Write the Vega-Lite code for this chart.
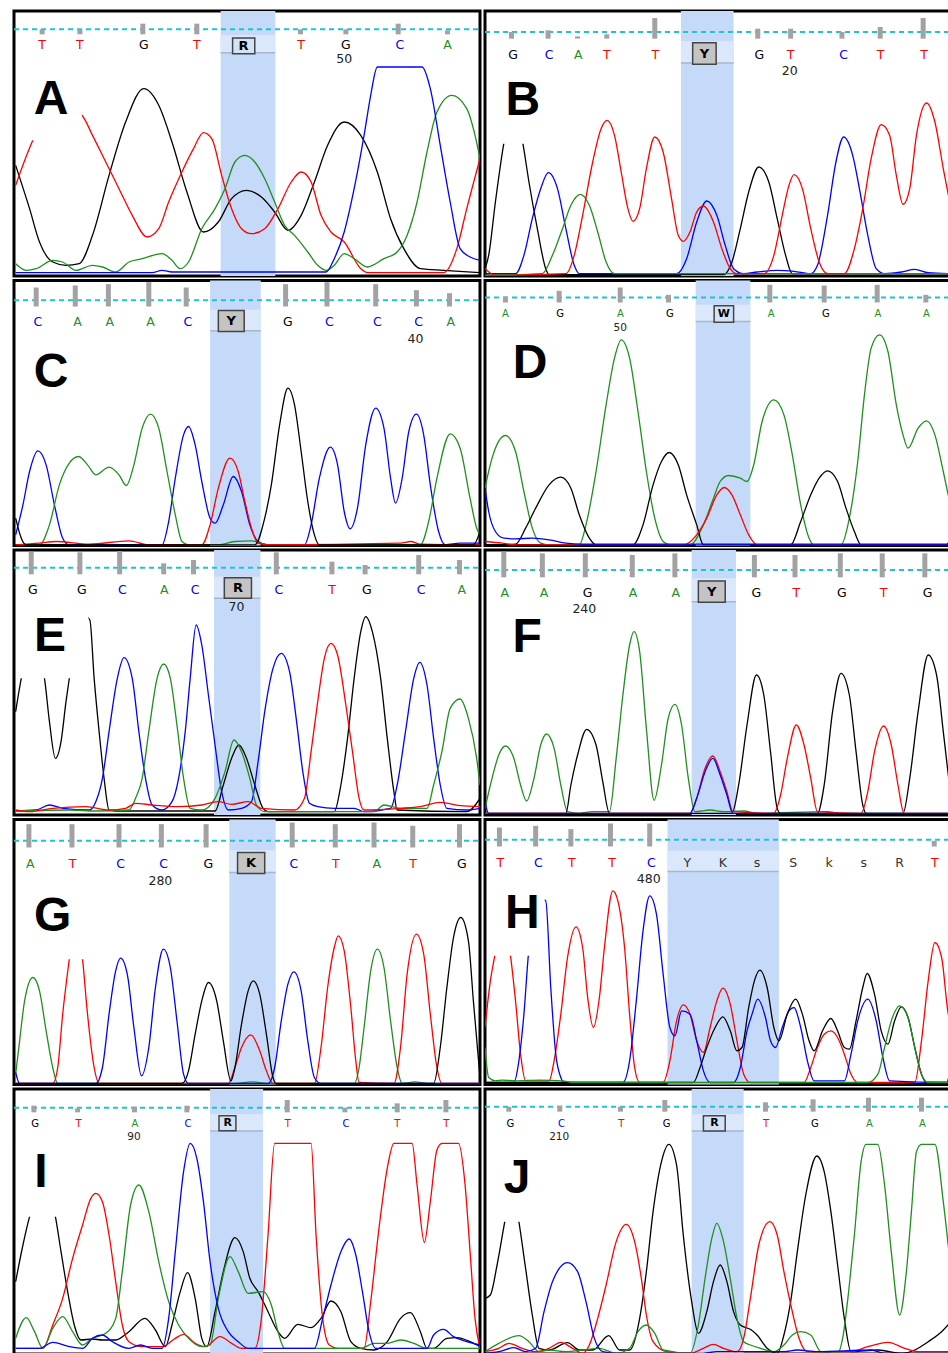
{
"$schema":"https://vega.github.io/schema/vega-lite/v6.json",
"padding":{"left":11,"top":9,"right":0,"bottom":0},
"background":"white",
"config":{"view":{"stroke":"#000000","strokeWidth":3},"font":"DejaVu Sans"},
"data":{"values":[
{"p":"A","k":"hl","x":657,"x2":822,"y":0,"y2":795},
{"p":"A","k":"band","x":657,"x2":822,"y":722,"y2":670},
{"p":"A","k":"dash","x":33,"x2":1440,"y":740},
{"p":"A","k":"tick","x":118,"y":740,"y2":725},{"p":"A","k":"tick","x":232,"y":740,"y2":725},{"p":"A","k":"tick","x":422,"y":757,"y2":725},{"p":"A","k":"tick","x":585,"y":757,"y2":725},{"p":"A","k":"tick","x":898,"y":740,"y2":725},{"p":"A","k":"tick","x":1035,"y":740,"y2":725},{"p":"A","k":"tick","x":1193,"y":757,"y2":725},{"p":"A","k":"tick","x":1342,"y":737,"y2":725},
{"p":"A","k":"l","b":"T","x":118,"y":692},{"p":"A","k":"l","b":"T","x":232,"y":692},{"p":"A","k":"l","b":"G","x":425,"y":692},{"p":"A","k":"l","b":"T","x":585,"y":692},{"p":"A","k":"l","b":"T","x":900,"y":692},{"p":"A","k":"l","b":"G","x":1035,"y":692},{"p":"A","k":"l","b":"C","x":1198,"y":692},{"p":"A","k":"l","b":"A","x":1342,"y":692},
{"p":"A","k":"box","x":693,"x2":760,"y":714,"y2":667},
{"p":"A","k":"a","t":"R","x":726,"y":690},
{"p":"A","k":"n","t":"50","x":1030,"y":652},
{"p":"A","k":"pl","t":"A","x":145,"y":487},
{"p":"A","k":"mask","x":39,"x2":238,"y":407,"y2":640},
{"p":"A","k":"t","b":"G","x":38,"y":332},{"p":"A","k":"t","b":"G","x":80,"y":202},{"p":"A","k":"t","b":"G","x":110,"y":102},{"p":"A","k":"t","b":"G","x":150,"y":42},{"p":"A","k":"t","b":"G","x":190,"y":32},{"p":"A","k":"t","b":"G","x":230,"y":37},{"p":"A","k":"t","b":"G","x":270,"y":122},{"p":"A","k":"t","b":"G","x":320,"y":302},{"p":"A","k":"t","b":"G","x":370,"y":462},{"p":"A","k":"t","b":"G","x":425,"y":562},{"p":"A","k":"t","b":"G","x":470,"y":512},{"p":"A","k":"t","b":"G","x":510,"y":402},{"p":"A","k":"t","b":"G","x":555,"y":252},{"p":"A","k":"t","b":"G","x":605,"y":132},{"p":"A","k":"t","b":"G","x":650,"y":162},{"p":"A","k":"t","b":"G","x":690,"y":232},{"p":"A","k":"t","b":"G","x":735,"y":257},{"p":"A","k":"t","b":"G","x":780,"y":237},{"p":"A","k":"t","b":"G","x":820,"y":192},{"p":"A","k":"t","b":"G","x":860,"y":137},{"p":"A","k":"t","b":"G","x":900,"y":182},{"p":"A","k":"t","b":"G","x":940,"y":282},{"p":"A","k":"t","b":"G","x":980,"y":392},{"p":"A","k":"t","b":"G","x":1030,"y":462},{"p":"A","k":"t","b":"G","x":1080,"y":422},{"p":"A","k":"t","b":"G","x":1130,"y":312},{"p":"A","k":"t","b":"G","x":1170,"y":172},{"p":"A","k":"t","b":"G","x":1210,"y":82},{"p":"A","k":"t","b":"G","x":1260,"y":22},{"p":"A","k":"t","b":"G","x":1330,"y":17},{"p":"A","k":"t","b":"G","x":1440,"y":10},
{"p":"A","k":"t","b":"T","x":38,"y":272},{"p":"A","k":"t","b":"T","x":90,"y":407},{"p":"A","k":"t","b":"T","x":160,"y":520},{"p":"A","k":"t","b":"T","x":238,"y":482},{"p":"A","k":"t","b":"T","x":270,"y":422},{"p":"A","k":"t","b":"T","x":310,"y":342},{"p":"A","k":"t","b":"T","x":350,"y":262},{"p":"A","k":"t","b":"T","x":390,"y":182},{"p":"A","k":"t","b":"T","x":435,"y":117},{"p":"A","k":"t","b":"T","x":470,"y":142},{"p":"A","k":"t","b":"T","x":500,"y":222},{"p":"A","k":"t","b":"T","x":540,"y":312},{"p":"A","k":"t","b":"T","x":575,"y":382},{"p":"A","k":"t","b":"T","x":605,"y":430},{"p":"A","k":"t","b":"T","x":630,"y":412},{"p":"A","k":"t","b":"T","x":660,"y":302},{"p":"A","k":"t","b":"T","x":690,"y":202},{"p":"A","k":"t","b":"T","x":720,"y":142},{"p":"A","k":"t","b":"T","x":750,"y":127},{"p":"A","k":"t","b":"T","x":790,"y":142},{"p":"A","k":"t","b":"T","x":830,"y":202},{"p":"A","k":"t","b":"T","x":870,"y":282},{"p":"A","k":"t","b":"T","x":900,"y":312},{"p":"A","k":"t","b":"T","x":930,"y":282},{"p":"A","k":"t","b":"T","x":960,"y":182},{"p":"A","k":"t","b":"T","x":990,"y":132},{"p":"A","k":"t","b":"T","x":1030,"y":102},{"p":"A","k":"t","b":"T","x":1080,"y":22},{"p":"A","k":"t","b":"T","x":1100,"y":10},{"p":"A","k":"t","b":"T","x":1330,"y":10},{"p":"A","k":"t","b":"T","x":1370,"y":82},{"p":"A","k":"t","b":"T","x":1400,"y":202},{"p":"A","k":"t","b":"T","x":1440,"y":352},
{"p":"A","k":"t","b":"A","x":38,"y":37},{"p":"A","k":"t","b":"A","x":70,"y":17},{"p":"A","k":"t","b":"A","x":100,"y":22},{"p":"A","k":"t","b":"A","x":150,"y":47},{"p":"A","k":"t","b":"A","x":180,"y":42},{"p":"A","k":"t","b":"A","x":220,"y":17},{"p":"A","k":"t","b":"A","x":270,"y":32},{"p":"A","k":"t","b":"A","x":300,"y":27},{"p":"A","k":"t","b":"A","x":340,"y":12},{"p":"A","k":"t","b":"A","x":380,"y":42},{"p":"A","k":"t","b":"A","x":420,"y":52},{"p":"A","k":"t","b":"A","x":480,"y":67},{"p":"A","k":"t","b":"A","x":510,"y":47},{"p":"A","k":"t","b":"A","x":535,"y":22},{"p":"A","k":"t","b":"A","x":560,"y":42},{"p":"A","k":"t","b":"A","x":600,"y":142},{"p":"A","k":"t","b":"A","x":640,"y":202},{"p":"A","k":"t","b":"A","x":670,"y":262},{"p":"A","k":"t","b":"A","x":700,"y":342},{"p":"A","k":"t","b":"A","x":730,"y":362},{"p":"A","k":"t","b":"A","x":760,"y":342},{"p":"A","k":"t","b":"A","x":790,"y":292},{"p":"A","k":"t","b":"A","x":820,"y":222},{"p":"A","k":"t","b":"A","x":850,"y":152},{"p":"A","k":"t","b":"A","x":880,"y":122},{"p":"A","k":"t","b":"A","x":920,"y":72},{"p":"A","k":"t","b":"A","x":950,"y":32},{"p":"A","k":"t","b":"A","x":975,"y":17},{"p":"A","k":"t","b":"A","x":1000,"y":32},{"p":"A","k":"t","b":"A","x":1030,"y":67},{"p":"A","k":"t","b":"A","x":1060,"y":52},{"p":"A","k":"t","b":"A","x":1100,"y":27},{"p":"A","k":"t","b":"A","x":1150,"y":52},{"p":"A","k":"t","b":"A","x":1190,"y":72},{"p":"A","k":"t","b":"A","x":1220,"y":122},{"p":"A","k":"t","b":"A","x":1250,"y":222},{"p":"A","k":"t","b":"A","x":1280,"y":372},{"p":"A","k":"t","b":"A","x":1310,"y":492},{"p":"A","k":"t","b":"A","x":1355,"y":542},{"p":"A","k":"t","b":"A","x":1400,"y":502},{"p":"A","k":"t","b":"A","x":1425,"y":422},{"p":"A","k":"t","b":"A","x":1440,"y":352},
{"p":"A","k":"t","b":"C","x":38,"y":10},{"p":"A","k":"t","b":"C","x":450,"y":10},{"p":"A","k":"t","b":"C","x":480,"y":17},{"p":"A","k":"t","b":"C","x":510,"y":12},{"p":"A","k":"t","b":"C","x":975,"y":12},{"p":"A","k":"t","b":"C","x":1000,"y":52},{"p":"A","k":"t","b":"C","x":1030,"y":132},{"p":"A","k":"t","b":"C","x":1060,"y":262},{"p":"A","k":"t","b":"C","x":1090,"y":422},{"p":"A","k":"t","b":"C","x":1110,"y":542},{"p":"A","k":"t","b":"C","x":1130,"y":627},{"p":"A","k":"t","b":"C","x":1265,"y":627},{"p":"A","k":"t","b":"C","x":1290,"y":562},{"p":"A","k":"t","b":"C","x":1320,"y":392},{"p":"A","k":"t","b":"C","x":1350,"y":222},{"p":"A","k":"t","b":"C","x":1380,"y":82},{"p":"A","k":"t","b":"C","x":1410,"y":57},{"p":"A","k":"t","b":"C","x":1440,"y":47},

{"p":"C","k":"hl","x":625,"x2":778,"y":0,"y2":795},
{"p":"C","k":"band","x":625,"x2":778,"y":707,"y2":644},
{"p":"C","k":"dash","x":33,"x2":1440,"y":736},
{"p":"C","k":"tick","x":100,"y":774,"y2":717},{"p":"C","k":"tick","x":218,"y":780,"y2":717},{"p":"C","k":"tick","x":318,"y":784,"y2":717},{"p":"C","k":"tick","x":440,"y":790,"y2":717},{"p":"C","k":"tick","x":553,"y":774,"y2":717},{"p":"C","k":"tick","x":853,"y":784,"y2":717},{"p":"C","k":"tick","x":978,"y":790,"y2":717},{"p":"C","k":"tick","x":1125,"y":784,"y2":717},{"p":"C","k":"tick","x":1248,"y":766,"y2":717},{"p":"C","k":"tick","x":1348,"y":757,"y2":717},
{"p":"C","k":"l","b":"C","x":105,"y":670},{"p":"C","k":"l","b":"A","x":225,"y":670},{"p":"C","k":"l","b":"A","x":322,"y":670},{"p":"C","k":"l","b":"A","x":445,"y":670},{"p":"C","k":"l","b":"C","x":558,"y":670},{"p":"C","k":"l","b":"G","x":860,"y":670},{"p":"C","k":"l","b":"C","x":985,"y":670},{"p":"C","k":"l","b":"C","x":1130,"y":670},{"p":"C","k":"l","b":"C","x":1255,"y":670},{"p":"C","k":"l","b":"A","x":1352,"y":670},
{"p":"C","k":"box","x":650,"x2":728,"y":705,"y2":642},
{"p":"C","k":"a","t":"Y","x":689,"y":673},
{"p":"C","k":"n","t":"40","x":1245,"y":620},
{"p":"C","k":"pl","t":"C","x":145,"y":477},
{"p":"C","k":"t","b":"C","x":38,"y":32},{"p":"C","k":"t","b":"C","x":60,"y":122},{"p":"C","k":"t","b":"C","x":80,"y":222},{"p":"C","k":"t","b":"C","x":105,"y":284},{"p":"C","k":"t","b":"C","x":130,"y":242},{"p":"C","k":"t","b":"C","x":155,"y":122},{"p":"C","k":"t","b":"C","x":180,"y":22},{"p":"C","k":"t","b":"C","x":200,"y":2},{"p":"C","k":"t","b":"C","x":480,"y":2},{"p":"C","k":"t","b":"C","x":500,"y":72},{"p":"C","k":"t","b":"C","x":520,"y":202},{"p":"C","k":"t","b":"C","x":545,"y":332},{"p":"C","k":"t","b":"C","x":560,"y":357},{"p":"C","k":"t","b":"C","x":580,"y":302},{"p":"C","k":"t","b":"C","x":600,"y":192},{"p":"C","k":"t","b":"C","x":625,"y":82},{"p":"C","k":"t","b":"C","x":640,"y":67},{"p":"C","k":"t","b":"C","x":665,"y":122},{"p":"C","k":"t","b":"C","x":695,"y":207},{"p":"C","k":"t","b":"C","x":720,"y":162},{"p":"C","k":"t","b":"C","x":745,"y":62},{"p":"C","k":"t","b":"C","x":770,"y":12},{"p":"C","k":"t","b":"C","x":800,"y":2},{"p":"C","k":"t","b":"C","x":910,"y":2},{"p":"C","k":"t","b":"C","x":930,"y":62},{"p":"C","k":"t","b":"C","x":955,"y":202},{"p":"C","k":"t","b":"C","x":988,"y":295},{"p":"C","k":"t","b":"C","x":1010,"y":242},{"p":"C","k":"t","b":"C","x":1030,"y":102},{"p":"C","k":"t","b":"C","x":1048,"y":50},{"p":"C","k":"t","b":"C","x":1070,"y":112},{"p":"C","k":"t","b":"C","x":1095,"y":302},{"p":"C","k":"t","b":"C","x":1125,"y":412},{"p":"C","k":"t","b":"C","x":1150,"y":352},{"p":"C","k":"t","b":"C","x":1170,"y":202},{"p":"C","k":"t","b":"C","x":1185,"y":127},{"p":"C","k":"t","b":"C","x":1205,"y":202},{"p":"C","k":"t","b":"C","x":1225,"y":342},{"p":"C","k":"t","b":"C","x":1248,"y":394},{"p":"C","k":"t","b":"C","x":1270,"y":332},{"p":"C","k":"t","b":"C","x":1290,"y":182},{"p":"C","k":"t","b":"C","x":1315,"y":42},{"p":"C","k":"t","b":"C","x":1335,"y":2},{"p":"C","k":"t","b":"C","x":1380,"y":7},{"p":"C","k":"t","b":"C","x":1440,"y":7},
{"p":"C","k":"t","b":"A","x":38,"y":2},{"p":"C","k":"t","b":"A","x":110,"y":2},{"p":"C","k":"t","b":"A","x":140,"y":62},{"p":"C","k":"t","b":"A","x":170,"y":182},{"p":"C","k":"t","b":"A","x":200,"y":247},{"p":"C","k":"t","b":"A","x":228,"y":267},{"p":"C","k":"t","b":"A","x":255,"y":242},{"p":"C","k":"t","b":"A","x":280,"y":212},{"p":"C","k":"t","b":"A","x":320,"y":235},{"p":"C","k":"t","b":"A","x":350,"y":212},{"p":"C","k":"t","b":"A","x":372,"y":180},{"p":"C","k":"t","b":"A","x":395,"y":242},{"p":"C","k":"t","b":"A","x":420,"y":352},{"p":"C","k":"t","b":"A","x":445,"y":394},{"p":"C","k":"t","b":"A","x":470,"y":352},{"p":"C","k":"t","b":"A","x":495,"y":222},{"p":"C","k":"t","b":"A","x":520,"y":92},{"p":"C","k":"t","b":"A","x":540,"y":12},{"p":"C","k":"t","b":"A","x":560,"y":2},{"p":"C","k":"t","b":"A","x":650,"y":2},{"p":"C","k":"t","b":"A","x":700,"y":12},{"p":"C","k":"t","b":"A","x":750,"y":14},{"p":"C","k":"t","b":"A","x":800,"y":2},{"p":"C","k":"t","b":"A","x":1260,"y":2},{"p":"C","k":"t","b":"A","x":1285,"y":72},{"p":"C","k":"t","b":"A","x":1310,"y":202},{"p":"C","k":"t","b":"A","x":1350,"y":335},{"p":"C","k":"t","b":"A","x":1380,"y":292},{"p":"C","k":"t","b":"A","x":1410,"y":142},{"p":"C","k":"t","b":"A","x":1430,"y":52},{"p":"C","k":"t","b":"A","x":1440,"y":32},
{"p":"C","k":"t","b":"T","x":38,"y":2},{"p":"C","k":"t","b":"T","x":110,"y":7},{"p":"C","k":"t","b":"T","x":160,"y":12},{"p":"C","k":"t","b":"T","x":260,"y":4},{"p":"C","k":"t","b":"T","x":380,"y":14},{"p":"C","k":"t","b":"T","x":440,"y":2},{"p":"C","k":"t","b":"T","x":600,"y":2},{"p":"C","k":"t","b":"T","x":625,"y":62},{"p":"C","k":"t","b":"T","x":650,"y":172},{"p":"C","k":"t","b":"T","x":685,"y":262},{"p":"C","k":"t","b":"T","x":710,"y":222},{"p":"C","k":"t","b":"T","x":730,"y":132},{"p":"C","k":"t","b":"T","x":750,"y":52},{"p":"C","k":"t","b":"T","x":770,"y":7},{"p":"C","k":"t","b":"T","x":800,"y":2},{"p":"C","k":"t","b":"T","x":1200,"y":7},{"p":"C","k":"t","b":"T","x":1230,"y":12},{"p":"C","k":"t","b":"T","x":1260,"y":4},{"p":"C","k":"t","b":"T","x":1440,"y":2},
{"p":"C","k":"t","b":"G","x":38,"y":82},{"p":"C","k":"t","b":"G","x":55,"y":22},{"p":"C","k":"t","b":"G","x":70,"y":2},{"p":"C","k":"t","b":"G","x":760,"y":2},{"p":"C","k":"t","b":"G","x":790,"y":82},{"p":"C","k":"t","b":"G","x":810,"y":182},{"p":"C","k":"t","b":"G","x":835,"y":362},{"p":"C","k":"t","b":"G","x":860,"y":472},{"p":"C","k":"t","b":"G","x":880,"y":422},{"p":"C","k":"t","b":"G","x":900,"y":282},{"p":"C","k":"t","b":"G","x":920,"y":132},{"p":"C","k":"t","b":"G","x":940,"y":32},{"p":"C","k":"t","b":"G","x":955,"y":2},{"p":"C","k":"t","b":"G","x":1420,"y":2},{"p":"C","k":"t","b":"G","x":1440,"y":42},

{"p":"E","k":"hl","x":637,"x2":777,"y":0,"y2":795},
{"p":"E","k":"band","x":637,"x2":777,"y":715,"y2":650},
{"p":"E","k":"dash","x":33,"x2":1440,"y":742},
{"p":"E","k":"tick","x":85,"y":790,"y2":722},{"p":"E","k":"tick","x":232,"y":788,"y2":722},{"p":"E","k":"tick","x":352,"y":792,"y2":722},{"p":"E","k":"tick","x":485,"y":755,"y2":722},{"p":"E","k":"tick","x":575,"y":765,"y2":722},{"p":"E","k":"tick","x":825,"y":788,"y2":722},{"p":"E","k":"tick","x":993,"y":760,"y2":722},{"p":"E","k":"tick","x":1093,"y":750,"y2":722},{"p":"E","k":"tick","x":1255,"y":780,"y2":722},{"p":"E","k":"tick","x":1378,"y":765,"y2":722},
{"p":"E","k":"l","b":"G","x":90,"y":675},{"p":"E","k":"l","b":"G","x":238,"y":675},{"p":"E","k":"l","b":"C","x":360,"y":675},{"p":"E","k":"l","b":"A","x":487,"y":675},{"p":"E","k":"l","b":"C","x":580,"y":675},{"p":"E","k":"l","b":"C","x":833,"y":675},{"p":"E","k":"l","b":"T","x":993,"y":675},{"p":"E","k":"l","b":"G","x":1098,"y":675},{"p":"E","k":"l","b":"C","x":1262,"y":675},{"p":"E","k":"l","b":"A","x":1385,"y":675},
{"p":"E","k":"box","x":668,"x2":750,"y":712,"y2":650},
{"p":"E","k":"a","t":"R","x":709,"y":681},
{"p":"E","k":"n","t":"70","x":705,"y":625},
{"p":"E","k":"pl","t":"E","x":142,"y":492},
{"p":"E","k":"mask","x":39,"x2":258,"y":410,"y2":640},
{"p":"E","k":"t","b":"G","x":38,"y":310},{"p":"E","k":"t","b":"G","x":55,"y":410},{"p":"E","k":"t","b":"G","x":90,"y":520},{"p":"E","k":"t","b":"G","x":125,"y":410},{"p":"E","k":"t","b":"G","x":140,"y":280},{"p":"E","k":"t","b":"G","x":158,"y":170},{"p":"E","k":"t","b":"G","x":175,"y":220},{"p":"E","k":"t","b":"G","x":190,"y":340},{"p":"E","k":"t","b":"G","x":200,"y":410},{"p":"E","k":"t","b":"G","x":230,"y":610},{"p":"E","k":"t","b":"G","x":262,"y":585},{"p":"E","k":"t","b":"G","x":275,"y":410},{"p":"E","k":"t","b":"G","x":290,"y":250},{"p":"E","k":"t","b":"G","x":305,"y":110},{"p":"E","k":"t","b":"G","x":320,"y":15},{"p":"E","k":"t","b":"G","x":340,"y":12},{"p":"E","k":"t","b":"G","x":640,"y":12},{"p":"E","k":"t","b":"G","x":665,"y":90},{"p":"E","k":"t","b":"G","x":690,"y":170},{"p":"E","k":"t","b":"G","x":712,"y":210},{"p":"E","k":"t","b":"G","x":735,"y":170},{"p":"E","k":"t","b":"G","x":760,"y":90},{"p":"E","k":"t","b":"G","x":785,"y":20},{"p":"E","k":"t","b":"G","x":800,"y":10},{"p":"E","k":"t","b":"G","x":1000,"y":10},{"p":"E","k":"t","b":"G","x":1020,"y":90},{"p":"E","k":"t","b":"G","x":1040,"y":230},{"p":"E","k":"t","b":"G","x":1060,"y":410},{"p":"E","k":"t","b":"G","x":1080,"y":550},{"p":"E","k":"t","b":"G","x":1095,"y":595},{"p":"E","k":"t","b":"G","x":1115,"y":550},{"p":"E","k":"t","b":"G","x":1140,"y":410},{"p":"E","k":"t","b":"G","x":1160,"y":230},{"p":"E","k":"t","b":"G","x":1180,"y":70},{"p":"E","k":"t","b":"G","x":1190,"y":15},{"p":"E","k":"t","b":"G","x":1400,"y":10},{"p":"E","k":"t","b":"G","x":1440,"y":50},
{"p":"E","k":"t","b":"C","x":38,"y":12},{"p":"E","k":"t","b":"C","x":100,"y":15},{"p":"E","k":"t","b":"C","x":140,"y":30},{"p":"E","k":"t","b":"C","x":180,"y":20},{"p":"E","k":"t","b":"C","x":260,"y":15},{"p":"E","k":"t","b":"C","x":280,"y":40},{"p":"E","k":"t","b":"C","x":300,"y":110},{"p":"E","k":"t","b":"C","x":320,"y":250},{"p":"E","k":"t","b":"C","x":345,"y":410},{"p":"E","k":"t","b":"C","x":365,"y":472},{"p":"E","k":"t","b":"C","x":390,"y":410},{"p":"E","k":"t","b":"C","x":410,"y":250},{"p":"E","k":"t","b":"C","x":430,"y":110},{"p":"E","k":"t","b":"C","x":450,"y":30},{"p":"E","k":"t","b":"C","x":480,"y":15},{"p":"E","k":"t","b":"C","x":510,"y":40},{"p":"E","k":"t","b":"C","x":530,"y":110},{"p":"E","k":"t","b":"C","x":550,"y":250},{"p":"E","k":"t","b":"C","x":565,"y":410},{"p":"E","k":"t","b":"C","x":583,"y":570},{"p":"E","k":"t","b":"C","x":600,"y":510},{"p":"E","k":"t","b":"C","x":620,"y":360},{"p":"E","k":"t","b":"C","x":640,"y":210},{"p":"E","k":"t","b":"C","x":660,"y":70},{"p":"E","k":"t","b":"C","x":680,"y":15},{"p":"E","k":"t","b":"C","x":720,"y":20},{"p":"E","k":"t","b":"C","x":750,"y":40},{"p":"E","k":"t","b":"C","x":770,"y":160},{"p":"E","k":"t","b":"C","x":790,"y":310},{"p":"E","k":"t","b":"C","x":815,"y":440},{"p":"E","k":"t","b":"C","x":840,"y":485},{"p":"E","k":"t","b":"C","x":865,"y":430},{"p":"E","k":"t","b":"C","x":885,"y":290},{"p":"E","k":"t","b":"C","x":905,"y":130},{"p":"E","k":"t","b":"C","x":925,"y":35},{"p":"E","k":"t","b":"C","x":950,"y":25},{"p":"E","k":"t","b":"C","x":1000,"y":20},{"p":"E","k":"t","b":"C","x":1060,"y":20},{"p":"E","k":"t","b":"C","x":1090,"y":10},{"p":"E","k":"t","b":"C","x":1170,"y":20},{"p":"E","k":"t","b":"C","x":1190,"y":90},{"p":"E","k":"t","b":"C","x":1215,"y":250},{"p":"E","k":"t","b":"C","x":1240,"y":410},{"p":"E","k":"t","b":"C","x":1258,"y":458},{"p":"E","k":"t","b":"C","x":1280,"y":390},{"p":"E","k":"t","b":"C","x":1300,"y":230},{"p":"E","k":"t","b":"C","x":1320,"y":90},{"p":"E","k":"t","b":"C","x":1340,"y":20},{"p":"E","k":"t","b":"C","x":1400,"y":15},{"p":"E","k":"t","b":"C","x":1440,"y":20},
{"p":"E","k":"t","b":"A","x":38,"y":12},{"p":"E","k":"t","b":"A","x":200,"y":15},{"p":"E","k":"t","b":"A","x":280,"y":12},{"p":"E","k":"t","b":"A","x":380,"y":15},{"p":"E","k":"t","b":"A","x":400,"y":50},{"p":"E","k":"t","b":"A","x":420,"y":110},{"p":"E","k":"t","b":"A","x":440,"y":250},{"p":"E","k":"t","b":"A","x":465,"y":410},{"p":"E","k":"t","b":"A","x":485,"y":453},{"p":"E","k":"t","b":"A","x":505,"y":410},{"p":"E","k":"t","b":"A","x":525,"y":270},{"p":"E","k":"t","b":"A","x":545,"y":110},{"p":"E","k":"t","b":"A","x":565,"y":20},{"p":"E","k":"t","b":"A","x":600,"y":15},{"p":"E","k":"t","b":"A","x":640,"y":50},{"p":"E","k":"t","b":"A","x":670,"y":130},{"p":"E","k":"t","b":"A","x":697,"y":225},{"p":"E","k":"t","b":"A","x":720,"y":190},{"p":"E","k":"t","b":"A","x":745,"y":110},{"p":"E","k":"t","b":"A","x":765,"y":30},{"p":"E","k":"t","b":"A","x":790,"y":10},{"p":"E","k":"t","b":"A","x":1120,"y":10},{"p":"E","k":"t","b":"A","x":1150,"y":30},{"p":"E","k":"t","b":"A","x":1200,"y":20},{"p":"E","k":"t","b":"A","x":1280,"y":20},{"p":"E","k":"t","b":"A","x":1300,"y":90},{"p":"E","k":"t","b":"A","x":1325,"y":190},{"p":"E","k":"t","b":"A","x":1350,"y":320},{"p":"E","k":"t","b":"A","x":1380,"y":348},{"p":"E","k":"t","b":"A","x":1405,"y":290},{"p":"E","k":"t","b":"A","x":1430,"y":170},{"p":"E","k":"t","b":"A","x":1440,"y":90},
{"p":"E","k":"t","b":"T","x":38,"y":15},{"p":"E","k":"t","b":"T","x":80,"y":10},{"p":"E","k":"t","b":"T","x":150,"y":20},{"p":"E","k":"t","b":"T","x":250,"y":25},{"p":"E","k":"t","b":"T","x":320,"y":15},{"p":"E","k":"t","b":"T","x":370,"y":20},{"p":"E","k":"t","b":"T","x":400,"y":35},{"p":"E","k":"t","b":"T","x":450,"y":30},{"p":"E","k":"t","b":"T","x":530,"y":25},{"p":"E","k":"t","b":"T","x":600,"y":30},{"p":"E","k":"t","b":"T","x":650,"y":40},{"p":"E","k":"t","b":"T","x":690,"y":32},{"p":"E","k":"t","b":"T","x":740,"y":40},{"p":"E","k":"t","b":"T","x":780,"y":20},{"p":"E","k":"t","b":"T","x":880,"y":15},{"p":"E","k":"t","b":"T","x":910,"y":50},{"p":"E","k":"t","b":"T","x":930,"y":190},{"p":"E","k":"t","b":"T","x":950,"y":340},{"p":"E","k":"t","b":"T","x":970,"y":470},{"p":"E","k":"t","b":"T","x":990,"y":515},{"p":"E","k":"t","b":"T","x":1010,"y":480},{"p":"E","k":"t","b":"T","x":1035,"y":330},{"p":"E","k":"t","b":"T","x":1055,"y":190},{"p":"E","k":"t","b":"T","x":1075,"y":50},{"p":"E","k":"t","b":"T","x":1090,"y":15},{"p":"E","k":"t","b":"T","x":1200,"y":20},{"p":"E","k":"t","b":"T","x":1260,"y":25},{"p":"E","k":"t","b":"T","x":1320,"y":38},{"p":"E","k":"t","b":"T","x":1380,"y":28},{"p":"E","k":"t","b":"T","x":1440,"y":25},

{"p":"G","k":"hl","x":683,"x2":823,"y":0,"y2":795},
{"p":"G","k":"band","x":683,"x2":823,"y":703,"y2":636},
{"p":"G","k":"dash","x":33,"x2":1440,"y":731},
{"p":"G","k":"tick","x":78,"y":781,"y2":711},{"p":"G","k":"tick","x":208,"y":781,"y2":711},{"p":"G","k":"tick","x":350,"y":781,"y2":711},{"p":"G","k":"tick","x":478,"y":781,"y2":711},{"p":"G","k":"tick","x":613,"y":781,"y2":711},{"p":"G","k":"tick","x":873,"y":786,"y2":711},{"p":"G","k":"tick","x":1003,"y":781,"y2":711},{"p":"G","k":"tick","x":1120,"y":786,"y2":711},{"p":"G","k":"tick","x":1237,"y":776,"y2":711},{"p":"G","k":"tick","x":1378,"y":781,"y2":711},
{"p":"G","k":"l","b":"A","x":82,"y":661},{"p":"G","k":"l","b":"T","x":210,"y":661},{"p":"G","k":"l","b":"C","x":355,"y":661},{"p":"G","k":"l","b":"C","x":485,"y":661},{"p":"G","k":"l","b":"G","x":620,"y":661},{"p":"G","k":"l","b":"C","x":878,"y":661},{"p":"G","k":"l","b":"T","x":1005,"y":661},{"p":"G","k":"l","b":"A","x":1128,"y":661},{"p":"G","k":"l","b":"T","x":1238,"y":661},{"p":"G","k":"l","b":"G","x":1385,"y":661},
{"p":"G","k":"box","x":708,"x2":790,"y":696,"y2":633},
{"p":"G","k":"a","t":"K","x":749,"y":664},
{"p":"G","k":"n","t":"280","x":475,"y":611},
{"p":"G","k":"pl","t":"G","x":150,"y":461},
{"p":"G","k":"mask","x":39,"x2":252,"y":376,"y2":640},
{"p":"G","k":"t","b":"A","x":38,"y":31},{"p":"G","k":"t","b":"A","x":50,"y":131},{"p":"G","k":"t","b":"A","x":65,"y":251},{"p":"G","k":"t","b":"A","x":90,"y":321},{"p":"G","k":"t","b":"A","x":110,"y":281},{"p":"G","k":"t","b":"A","x":130,"y":161},{"p":"G","k":"t","b":"A","x":150,"y":51},{"p":"G","k":"t","b":"A","x":165,"y":3},{"p":"G","k":"t","b":"A","x":700,"y":3},{"p":"G","k":"t","b":"A","x":750,"y":8},{"p":"G","k":"t","b":"A","x":800,"y":3},{"p":"G","k":"t","b":"A","x":1060,"y":3},{"p":"G","k":"t","b":"A","x":1075,"y":51},{"p":"G","k":"t","b":"A","x":1090,"y":171},{"p":"G","k":"t","b":"A","x":1110,"y":341},{"p":"G","k":"t","b":"A","x":1130,"y":406},{"p":"G","k":"t","b":"A","x":1150,"y":351},{"p":"G","k":"t","b":"A","x":1170,"y":191},{"p":"G","k":"t","b":"A","x":1190,"y":51},{"p":"G","k":"t","b":"A","x":1205,"y":3},{"p":"G","k":"t","b":"A","x":1245,"y":8},{"p":"G","k":"t","b":"A","x":1280,"y":3},{"p":"G","k":"t","b":"A","x":1440,"y":3},
{"p":"G","k":"t","b":"T","x":38,"y":3},{"p":"G","k":"t","b":"T","x":150,"y":3},{"p":"G","k":"t","b":"T","x":165,"y":51},{"p":"G","k":"t","b":"T","x":180,"y":211},{"p":"G","k":"t","b":"T","x":200,"y":376},{"p":"G","k":"t","b":"T","x":220,"y":520},{"p":"G","k":"t","b":"T","x":240,"y":376},{"p":"G","k":"t","b":"T","x":255,"y":211},{"p":"G","k":"t","b":"T","x":275,"y":51},{"p":"G","k":"t","b":"T","x":290,"y":3},{"p":"G","k":"t","b":"T","x":680,"y":3},{"p":"G","k":"t","b":"T","x":700,"y":51},{"p":"G","k":"t","b":"T","x":720,"y":111},{"p":"G","k":"t","b":"T","x":748,"y":149},{"p":"G","k":"t","b":"T","x":775,"y":101},{"p":"G","k":"t","b":"T","x":795,"y":41},{"p":"G","k":"t","b":"T","x":815,"y":3},{"p":"G","k":"t","b":"T","x":940,"y":3},{"p":"G","k":"t","b":"T","x":960,"y":111},{"p":"G","k":"t","b":"T","x":980,"y":291},{"p":"G","k":"t","b":"T","x":1000,"y":411},{"p":"G","k":"t","b":"T","x":1012,"y":446},{"p":"G","k":"t","b":"T","x":1030,"y":401},{"p":"G","k":"t","b":"T","x":1050,"y":231},{"p":"G","k":"t","b":"T","x":1065,"y":71},{"p":"G","k":"t","b":"T","x":1075,"y":6},{"p":"G","k":"t","b":"T","x":1180,"y":3},{"p":"G","k":"t","b":"T","x":1200,"y":111},{"p":"G","k":"t","b":"T","x":1220,"y":331},{"p":"G","k":"t","b":"T","x":1248,"y":451},{"p":"G","k":"t","b":"T","x":1270,"y":391},{"p":"G","k":"t","b":"T","x":1290,"y":211},{"p":"G","k":"t","b":"T","x":1310,"y":51},{"p":"G","k":"t","b":"T","x":1325,"y":3},{"p":"G","k":"t","b":"T","x":1440,"y":3},
{"p":"G","k":"t","b":"C","x":38,"y":36},{"p":"G","k":"t","b":"C","x":50,"y":3},{"p":"G","k":"t","b":"C","x":280,"y":3},{"p":"G","k":"t","b":"C","x":300,"y":51},{"p":"G","k":"t","b":"C","x":320,"y":211},{"p":"G","k":"t","b":"C","x":340,"y":341},{"p":"G","k":"t","b":"C","x":355,"y":379},{"p":"G","k":"t","b":"C","x":375,"y":331},{"p":"G","k":"t","b":"C","x":395,"y":171},{"p":"G","k":"t","b":"C","x":418,"y":26},{"p":"G","k":"t","b":"C","x":440,"y":111},{"p":"G","k":"t","b":"C","x":460,"y":291},{"p":"G","k":"t","b":"C","x":484,"y":406},{"p":"G","k":"t","b":"C","x":505,"y":351},{"p":"G","k":"t","b":"C","x":525,"y":191},{"p":"G","k":"t","b":"C","x":545,"y":31},{"p":"G","k":"t","b":"C","x":560,"y":3},{"p":"G","k":"t","b":"C","x":800,"y":3},{"p":"G","k":"t","b":"C","x":820,"y":51},{"p":"G","k":"t","b":"C","x":840,"y":191},{"p":"G","k":"t","b":"C","x":860,"y":301},{"p":"G","k":"t","b":"C","x":878,"y":338},{"p":"G","k":"t","b":"C","x":900,"y":281},{"p":"G","k":"t","b":"C","x":920,"y":131},{"p":"G","k":"t","b":"C","x":940,"y":21},{"p":"G","k":"t","b":"C","x":960,"y":3},{"p":"G","k":"t","b":"C","x":1440,"y":3},
{"p":"G","k":"t","b":"G","x":38,"y":3},{"p":"G","k":"t","b":"G","x":540,"y":3},{"p":"G","k":"t","b":"G","x":560,"y":41},{"p":"G","k":"t","b":"G","x":580,"y":151},{"p":"G","k":"t","b":"G","x":600,"y":251},{"p":"G","k":"t","b":"G","x":620,"y":306},{"p":"G","k":"t","b":"G","x":645,"y":251},{"p":"G","k":"t","b":"G","x":665,"y":131},{"p":"G","k":"t","b":"G","x":688,"y":11},{"p":"G","k":"t","b":"G","x":700,"y":51},{"p":"G","k":"t","b":"G","x":720,"y":181},{"p":"G","k":"t","b":"G","x":740,"y":281},{"p":"G","k":"t","b":"G","x":755,"y":311},{"p":"G","k":"t","b":"G","x":775,"y":271},{"p":"G","k":"t","b":"G","x":795,"y":151},{"p":"G","k":"t","b":"G","x":815,"y":21},{"p":"G","k":"t","b":"G","x":825,"y":3},{"p":"G","k":"t","b":"G","x":1300,"y":3},{"p":"G","k":"t","b":"G","x":1320,"y":111},{"p":"G","k":"t","b":"G","x":1340,"y":291},{"p":"G","k":"t","b":"G","x":1360,"y":441},{"p":"G","k":"t","b":"G","x":1382,"y":501},{"p":"G","k":"t","b":"G","x":1405,"y":431},{"p":"G","k":"t","b":"G","x":1420,"y":251},{"p":"G","k":"t","b":"G","x":1440,"y":21},

{"p":"I","k":"hl","x":625,"x2":785,"y":0,"y2":795},
{"p":"I","k":"band","x":625,"x2":785,"y":719,"y2":669},
{"p":"I","k":"dash","x":33,"x2":1440,"y":739},
{"p":"I","k":"tick","x":93,"y":745,"y2":725},{"p":"I","k":"tick","x":225,"y":737,"y2":725},{"p":"I","k":"tick","x":397,"y":742,"y2":725},{"p":"I","k":"tick","x":555,"y":745,"y2":725},{"p":"I","k":"tick","x":858,"y":762,"y2":725},{"p":"I","k":"tick","x":1032,"y":739,"y2":725},{"p":"I","k":"tick","x":1190,"y":752,"y2":725},{"p":"I","k":"tick","x":1337,"y":762,"y2":725},
{"p":"I","k":"l","b":"G","x":97,"y":689},{"p":"I","k":"l","b":"T","x":228,"y":689},{"p":"I","k":"l","b":"A","x":398,"y":689},{"p":"I","k":"l","b":"C","x":558,"y":689},{"p":"I","k":"l","b":"T","x":860,"y":689},{"p":"I","k":"l","b":"C","x":1035,"y":689},{"p":"I","k":"l","b":"T","x":1190,"y":689},{"p":"I","k":"l","b":"T","x":1338,"y":689},
{"p":"I","k":"box","x":652,"x2":703,"y":715,"y2":670},
{"p":"I","k":"a","t":"R","x":678,"y":692},
{"p":"I","k":"n","t":"90","x":395,"y":652},
{"p":"I","k":"pl","t":"I","x":114,"y":502},
{"p":"I","k":"mask","x":39,"x2":170,"y":412,"y2":640},
{"p":"I","k":"t","b":"G","x":38,"y":217},{"p":"I","k":"t","b":"G","x":60,"y":327},{"p":"I","k":"t","b":"G","x":80,"y":412},{"p":"I","k":"t","b":"G","x":120,"y":520},{"p":"I","k":"t","b":"G","x":158,"y":412},{"p":"I","k":"t","b":"G","x":175,"y":307},{"p":"I","k":"t","b":"G","x":195,"y":187},{"p":"I","k":"t","b":"G","x":215,"y":87},{"p":"I","k":"t","b":"G","x":235,"y":42},{"p":"I","k":"t","b":"G","x":270,"y":45},{"p":"I","k":"t","b":"G","x":300,"y":42},{"p":"I","k":"t","b":"G","x":340,"y":42},{"p":"I","k":"t","b":"G","x":380,"y":67},{"p":"I","k":"t","b":"G","x":428,"y":107},{"p":"I","k":"t","b":"G","x":460,"y":72},{"p":"I","k":"t","b":"G","x":490,"y":22},{"p":"I","k":"t","b":"G","x":510,"y":87},{"p":"I","k":"t","b":"G","x":535,"y":187},{"p":"I","k":"t","b":"G","x":557,"y":244},{"p":"I","k":"t","b":"G","x":580,"y":167},{"p":"I","k":"t","b":"G","x":600,"y":47},{"p":"I","k":"t","b":"G","x":615,"y":22},{"p":"I","k":"t","b":"G","x":640,"y":127},{"p":"I","k":"t","b":"G","x":665,"y":247},{"p":"I","k":"t","b":"G","x":700,"y":349},{"p":"I","k":"t","b":"G","x":725,"y":307},{"p":"I","k":"t","b":"G","x":745,"y":227},{"p":"I","k":"t","b":"G","x":770,"y":187},{"p":"I","k":"t","b":"G","x":800,"y":127},{"p":"I","k":"t","b":"G","x":830,"y":67},{"p":"I","k":"t","b":"G","x":850,"y":47},{"p":"I","k":"t","b":"G","x":890,"y":89},{"p":"I","k":"t","b":"G","x":930,"y":79},{"p":"I","k":"t","b":"G","x":960,"y":107},{"p":"I","k":"t","b":"G","x":990,"y":159},{"p":"I","k":"t","b":"G","x":1020,"y":127},{"p":"I","k":"t","b":"G","x":1050,"y":37},{"p":"I","k":"t","b":"G","x":1080,"y":17},{"p":"I","k":"t","b":"G","x":1120,"y":12},{"p":"I","k":"t","b":"G","x":1160,"y":37},{"p":"I","k":"t","b":"G","x":1200,"y":107},{"p":"I","k":"t","b":"G","x":1230,"y":124},{"p":"I","k":"t","b":"G","x":1260,"y":67},{"p":"I","k":"t","b":"G","x":1280,"y":17},{"p":"I","k":"t","b":"G","x":1300,"y":17},{"p":"I","k":"t","b":"G","x":1340,"y":47},{"p":"I","k":"t","b":"G","x":1370,"y":49},{"p":"I","k":"t","b":"G","x":1410,"y":37},{"p":"I","k":"t","b":"G","x":1440,"y":22},
{"p":"I","k":"t","b":"T","x":38,"y":17},{"p":"I","k":"t","b":"T","x":120,"y":17},{"p":"I","k":"t","b":"T","x":150,"y":87},{"p":"I","k":"t","b":"T","x":180,"y":167},{"p":"I","k":"t","b":"T","x":210,"y":287},{"p":"I","k":"t","b":"T","x":240,"y":387},{"p":"I","k":"t","b":"T","x":265,"y":467},{"p":"I","k":"t","b":"T","x":280,"y":482},{"p":"I","k":"t","b":"T","x":300,"y":457},{"p":"I","k":"t","b":"T","x":320,"y":357},{"p":"I","k":"t","b":"T","x":340,"y":217},{"p":"I","k":"t","b":"T","x":360,"y":87},{"p":"I","k":"t","b":"T","x":380,"y":37},{"p":"I","k":"t","b":"T","x":420,"y":22},{"p":"I","k":"t","b":"T","x":480,"y":22},{"p":"I","k":"t","b":"T","x":520,"y":47},{"p":"I","k":"t","b":"T","x":545,"y":59},{"p":"I","k":"t","b":"T","x":580,"y":32},{"p":"I","k":"t","b":"T","x":610,"y":22},{"p":"I","k":"t","b":"T","x":655,"y":52},{"p":"I","k":"t","b":"T","x":690,"y":32},{"p":"I","k":"t","b":"T","x":720,"y":17},{"p":"I","k":"t","b":"T","x":760,"y":17},{"p":"I","k":"t","b":"T","x":780,"y":107},{"p":"I","k":"t","b":"T","x":800,"y":357},{"p":"I","k":"t","b":"T","x":820,"y":632},{"p":"I","k":"t","b":"T","x":930,"y":632},{"p":"I","k":"t","b":"T","x":945,"y":357},{"p":"I","k":"t","b":"T","x":965,"y":107},{"p":"I","k":"t","b":"T","x":985,"y":27},{"p":"I","k":"t","b":"T","x":1010,"y":17},{"p":"I","k":"t","b":"T","x":1090,"y":17},{"p":"I","k":"t","b":"T","x":1110,"y":157},{"p":"I","k":"t","b":"T","x":1135,"y":377},{"p":"I","k":"t","b":"T","x":1160,"y":557},{"p":"I","k":"t","b":"T","x":1180,"y":632},{"p":"I","k":"t","b":"T","x":1235,"y":632},{"p":"I","k":"t","b":"T","x":1250,"y":507},{"p":"I","k":"t","b":"T","x":1272,"y":335},{"p":"I","k":"t","b":"T","x":1290,"y":457},{"p":"I","k":"t","b":"T","x":1310,"y":612},{"p":"I","k":"t","b":"T","x":1325,"y":632},{"p":"I","k":"t","b":"T","x":1375,"y":632},{"p":"I","k":"t","b":"T","x":1395,"y":507},{"p":"I","k":"t","b":"T","x":1410,"y":307},{"p":"I","k":"t","b":"T","x":1425,"y":107},{"p":"I","k":"t","b":"T","x":1440,"y":17},
{"p":"I","k":"t","b":"A","x":38,"y":47},{"p":"I","k":"t","b":"A","x":70,"y":109},{"p":"I","k":"t","b":"A","x":95,"y":67},{"p":"I","k":"t","b":"A","x":120,"y":17},{"p":"I","k":"t","b":"A","x":150,"y":77},{"p":"I","k":"t","b":"A","x":180,"y":112},{"p":"I","k":"t","b":"A","x":210,"y":67},{"p":"I","k":"t","b":"A","x":240,"y":27},{"p":"I","k":"t","b":"A","x":270,"y":47},{"p":"I","k":"t","b":"A","x":310,"y":62},{"p":"I","k":"t","b":"A","x":340,"y":107},{"p":"I","k":"t","b":"A","x":360,"y":247},{"p":"I","k":"t","b":"A","x":385,"y":447},{"p":"I","k":"t","b":"A","x":410,"y":507},{"p":"I","k":"t","b":"A","x":440,"y":427},{"p":"I","k":"t","b":"A","x":470,"y":277},{"p":"I","k":"t","b":"A","x":500,"y":157},{"p":"I","k":"t","b":"A","x":530,"y":87},{"p":"I","k":"t","b":"A","x":560,"y":47},{"p":"I","k":"t","b":"A","x":600,"y":22},{"p":"I","k":"t","b":"A","x":625,"y":27},{"p":"I","k":"t","b":"A","x":650,"y":167},{"p":"I","k":"t","b":"A","x":685,"y":292},{"p":"I","k":"t","b":"A","x":710,"y":247},{"p":"I","k":"t","b":"A","x":740,"y":182},{"p":"I","k":"t","b":"A","x":785,"y":187},{"p":"I","k":"t","b":"A","x":810,"y":147},{"p":"I","k":"t","b":"A","x":830,"y":67},{"p":"I","k":"t","b":"A","x":850,"y":17},{"p":"I","k":"t","b":"A","x":1080,"y":17},{"p":"I","k":"t","b":"A","x":1120,"y":32},{"p":"I","k":"t","b":"A","x":1160,"y":32},{"p":"I","k":"t","b":"A","x":1200,"y":42},{"p":"I","k":"t","b":"A","x":1240,"y":32},{"p":"I","k":"t","b":"A","x":1280,"y":17},{"p":"I","k":"t","b":"A","x":1440,"y":17},
{"p":"I","k":"t","b":"C","x":38,"y":17},{"p":"I","k":"t","b":"C","x":110,"y":17},{"p":"I","k":"t","b":"C","x":150,"y":35},{"p":"I","k":"t","b":"C","x":200,"y":22},{"p":"I","k":"t","b":"C","x":240,"y":17},{"p":"I","k":"t","b":"C","x":270,"y":47},{"p":"I","k":"t","b":"C","x":300,"y":57},{"p":"I","k":"t","b":"C","x":330,"y":37},{"p":"I","k":"t","b":"C","x":380,"y":17},{"p":"I","k":"t","b":"C","x":415,"y":27},{"p":"I","k":"t","b":"C","x":450,"y":17},{"p":"I","k":"t","b":"C","x":480,"y":17},{"p":"I","k":"t","b":"C","x":500,"y":107},{"p":"I","k":"t","b":"C","x":520,"y":307},{"p":"I","k":"t","b":"C","x":545,"y":547},{"p":"I","k":"t","b":"C","x":565,"y":632},{"p":"I","k":"t","b":"C","x":585,"y":587},{"p":"I","k":"t","b":"C","x":605,"y":457},{"p":"I","k":"t","b":"C","x":625,"y":277},{"p":"I","k":"t","b":"C","x":650,"y":137},{"p":"I","k":"t","b":"C","x":680,"y":67},{"p":"I","k":"t","b":"C","x":710,"y":37},{"p":"I","k":"t","b":"C","x":740,"y":17},{"p":"I","k":"t","b":"C","x":940,"y":17},{"p":"I","k":"t","b":"C","x":965,"y":107},{"p":"I","k":"t","b":"C","x":990,"y":207},{"p":"I","k":"t","b":"C","x":1020,"y":307},{"p":"I","k":"t","b":"C","x":1045,"y":345},{"p":"I","k":"t","b":"C","x":1065,"y":297},{"p":"I","k":"t","b":"C","x":1085,"y":187},{"p":"I","k":"t","b":"C","x":1105,"y":67},{"p":"I","k":"t","b":"C","x":1125,"y":17},{"p":"I","k":"t","b":"C","x":1280,"y":17},{"p":"I","k":"t","b":"C","x":1300,"y":57},{"p":"I","k":"t","b":"C","x":1330,"y":74},{"p":"I","k":"t","b":"C","x":1360,"y":52},{"p":"I","k":"t","b":"C","x":1400,"y":37},{"p":"I","k":"t","b":"C","x":1440,"y":27},

{"p":"B","k":"hl","x":593,"x2":750,"y":0,"y2":795},
{"p":"B","k":"band","x":593,"x2":750,"y":704,"y2":639},
{"p":"B","k":"dash","x":9,"x2":1398,"y":732},
{"p":"B","k":"tick","x":88,"y":732,"y2":712},{"p":"B","k":"tick","x":197,"y":737,"y2":712},{"p":"B","k":"tick","x":285,"y":719,"y2":712},{"p":"B","k":"tick","x":372,"y":725,"y2":712},{"p":"B","k":"tick","x":515,"y":774,"y2":712},{"p":"B","k":"tick","x":822,"y":742,"y2":712},{"p":"B","k":"tick","x":920,"y":742,"y2":712},{"p":"B","k":"tick","x":1073,"y":732,"y2":712},{"p":"B","k":"tick","x":1187,"y":747,"y2":712},{"p":"B","k":"tick","x":1315,"y":774,"y2":712},
{"p":"B","k":"l","b":"G","x":93,"y":664},{"p":"B","k":"l","b":"C","x":200,"y":664},{"p":"B","k":"l","b":"A","x":287,"y":664},{"p":"B","k":"l","b":"T","x":372,"y":664},{"p":"B","k":"l","b":"T","x":517,"y":664},{"p":"B","k":"l","b":"G","x":827,"y":664},{"p":"B","k":"l","b":"T","x":920,"y":664},{"p":"B","k":"l","b":"C","x":1078,"y":664},{"p":"B","k":"l","b":"T","x":1188,"y":664},{"p":"B","k":"l","b":"T","x":1318,"y":664},
{"p":"B","k":"box","x":628,"x2":698,"y":700,"y2":635},
{"p":"B","k":"a","t":"Y","x":663,"y":667},
{"p":"B","k":"n","t":"20","x":917,"y":614},
{"p":"B","k":"pl","t":"B","x":122,"y":482},
{"p":"B","k":"mask","x":15,"x2":150,"y":397,"y2":640},
{"p":"B","k":"t","b":"G","x":9,"y":22},{"p":"B","k":"t","b":"G","x":20,"y":62},{"p":"B","k":"t","b":"G","x":40,"y":222},{"p":"B","k":"t","b":"G","x":65,"y":397},{"p":"B","k":"t","b":"G","x":93,"y":522},{"p":"B","k":"t","b":"G","x":122,"y":397},{"p":"B","k":"t","b":"G","x":140,"y":282},{"p":"B","k":"t","b":"G","x":165,"y":142},{"p":"B","k":"t","b":"G","x":190,"y":22},{"p":"B","k":"t","b":"G","x":200,"y":4},{"p":"B","k":"t","b":"G","x":720,"y":4},{"p":"B","k":"t","b":"G","x":745,"y":42},{"p":"B","k":"t","b":"G","x":770,"y":142},{"p":"B","k":"t","b":"G","x":795,"y":252},{"p":"B","k":"t","b":"G","x":825,"y":327},{"p":"B","k":"t","b":"G","x":855,"y":282},{"p":"B","k":"t","b":"G","x":880,"y":172},{"p":"B","k":"t","b":"G","x":905,"y":62},{"p":"B","k":"t","b":"G","x":925,"y":7},{"p":"B","k":"t","b":"G","x":1398,"y":7},
{"p":"B","k":"t","b":"C","x":9,"y":7},{"p":"B","k":"t","b":"C","x":100,"y":7},{"p":"B","k":"t","b":"C","x":125,"y":62},{"p":"B","k":"t","b":"C","x":150,"y":172},{"p":"B","k":"t","b":"C","x":175,"y":262},{"p":"B","k":"t","b":"C","x":198,"y":310},{"p":"B","k":"t","b":"C","x":225,"y":262},{"p":"B","k":"t","b":"C","x":250,"y":142},{"p":"B","k":"t","b":"C","x":275,"y":32},{"p":"B","k":"t","b":"C","x":290,"y":7},{"p":"B","k":"t","b":"C","x":580,"y":7},{"p":"B","k":"t","b":"C","x":610,"y":52},{"p":"B","k":"t","b":"C","x":640,"y":162},{"p":"B","k":"t","b":"C","x":670,"y":225},{"p":"B","k":"t","b":"C","x":700,"y":182},{"p":"B","k":"t","b":"C","x":725,"y":92},{"p":"B","k":"t","b":"C","x":750,"y":22},{"p":"B","k":"t","b":"C","x":780,"y":7},{"p":"B","k":"t","b":"C","x":820,"y":12},{"p":"B","k":"t","b":"C","x":880,"y":17},{"p":"B","k":"t","b":"C","x":930,"y":14},{"p":"B","k":"t","b":"C","x":980,"y":7},{"p":"B","k":"t","b":"C","x":1000,"y":32},{"p":"B","k":"t","b":"C","x":1030,"y":182},{"p":"B","k":"t","b":"C","x":1055,"y":342},{"p":"B","k":"t","b":"C","x":1078,"y":417},{"p":"B","k":"t","b":"C","x":1105,"y":362},{"p":"B","k":"t","b":"C","x":1125,"y":262},{"p":"B","k":"t","b":"C","x":1150,"y":122},{"p":"B","k":"t","b":"C","x":1175,"y":22},{"p":"B","k":"t","b":"C","x":1200,"y":7},{"p":"B","k":"t","b":"C","x":1250,"y":12},{"p":"B","k":"t","b":"C","x":1290,"y":20},{"p":"B","k":"t","b":"C","x":1330,"y":10},{"p":"B","k":"t","b":"C","x":1398,"y":7},
{"p":"B","k":"t","b":"A","x":9,"y":2},{"p":"B","k":"t","b":"A","x":180,"y":7},{"p":"B","k":"t","b":"A","x":210,"y":62},{"p":"B","k":"t","b":"A","x":240,"y":142},{"p":"B","k":"t","b":"A","x":265,"y":212},{"p":"B","k":"t","b":"A","x":293,"y":245},{"p":"B","k":"t","b":"A","x":320,"y":212},{"p":"B","k":"t","b":"A","x":345,"y":132},{"p":"B","k":"t","b":"A","x":370,"y":42},{"p":"B","k":"t","b":"A","x":395,"y":7},{"p":"B","k":"t","b":"A","x":1398,"y":7},
{"p":"B","k":"t","b":"T","x":9,"y":22},{"p":"B","k":"t","b":"T","x":40,"y":2},{"p":"B","k":"t","b":"T","x":250,"y":7},{"p":"B","k":"t","b":"T","x":275,"y":62},{"p":"B","k":"t","b":"T","x":300,"y":182},{"p":"B","k":"t","b":"T","x":330,"y":342},{"p":"B","k":"t","b":"T","x":355,"y":442},{"p":"B","k":"t","b":"T","x":373,"y":467},{"p":"B","k":"t","b":"T","x":395,"y":422},{"p":"B","k":"t","b":"T","x":415,"y":312},{"p":"B","k":"t","b":"T","x":435,"y":202},{"p":"B","k":"t","b":"T","x":450,"y":164},{"p":"B","k":"t","b":"T","x":470,"y":202},{"p":"B","k":"t","b":"T","x":490,"y":322},{"p":"B","k":"t","b":"T","x":515,"y":417},{"p":"B","k":"t","b":"T","x":540,"y":372},{"p":"B","k":"t","b":"T","x":565,"y":232},{"p":"B","k":"t","b":"T","x":585,"y":122},{"p":"B","k":"t","b":"T","x":600,"y":104},{"p":"B","k":"t","b":"T","x":620,"y":132},{"p":"B","k":"t","b":"T","x":640,"y":192},{"p":"B","k":"t","b":"T","x":660,"y":210},{"p":"B","k":"t","b":"T","x":690,"y":162},{"p":"B","k":"t","b":"T","x":715,"y":82},{"p":"B","k":"t","b":"T","x":740,"y":22},{"p":"B","k":"t","b":"T","x":760,"y":7},{"p":"B","k":"t","b":"T","x":840,"y":7},{"p":"B","k":"t","b":"T","x":870,"y":62},{"p":"B","k":"t","b":"T","x":895,"y":182},{"p":"B","k":"t","b":"T","x":915,"y":272},{"p":"B","k":"t","b":"T","x":930,"y":304},{"p":"B","k":"t","b":"T","x":955,"y":262},{"p":"B","k":"t","b":"T","x":980,"y":142},{"p":"B","k":"t","b":"T","x":1005,"y":42},{"p":"B","k":"t","b":"T","x":1030,"y":7},{"p":"B","k":"t","b":"T","x":1080,"y":7},{"p":"B","k":"t","b":"T","x":1110,"y":82},{"p":"B","k":"t","b":"T","x":1135,"y":202},{"p":"B","k":"t","b":"T","x":1160,"y":352},{"p":"B","k":"t","b":"T","x":1190,"y":454},{"p":"B","k":"t","b":"T","x":1215,"y":422},{"p":"B","k":"t","b":"T","x":1235,"y":302},{"p":"B","k":"t","b":"T","x":1255,"y":215},{"p":"B","k":"t","b":"T","x":1275,"y":262},{"p":"B","k":"t","b":"T","x":1295,"y":422},{"p":"B","k":"t","b":"T","x":1325,"y":519},{"p":"B","k":"t","b":"T","x":1350,"y":462},{"p":"B","k":"t","b":"T","x":1375,"y":322},{"p":"B","k":"t","b":"T","x":1398,"y":202},

{"p":"D","k":"hl","x":637,"x2":800,"y":0,"y2":795},
{"p":"D","k":"band","x":637,"x2":800,"y":722,"y2":672},
{"p":"D","k":"dash","x":9,"x2":1398,"y":744},
{"p":"D","k":"tick","x":70,"y":747,"y2":729},{"p":"D","k":"tick","x":230,"y":764,"y2":729},{"p":"D","k":"tick","x":412,"y":774,"y2":729},{"p":"D","k":"tick","x":556,"y":752,"y2":729},{"p":"D","k":"tick","x":858,"y":782,"y2":729},{"p":"D","k":"tick","x":1020,"y":780,"y2":729},{"p":"D","k":"tick","x":1178,"y":782,"y2":729},{"p":"D","k":"tick","x":1323,"y":752,"y2":729},
{"p":"D","k":"l","b":"A","x":70,"y":694},{"p":"D","k":"l","b":"G","x":233,"y":694},{"p":"D","k":"l","b":"A","x":413,"y":694},{"p":"D","k":"l","b":"G","x":560,"y":694},{"p":"D","k":"l","b":"A","x":862,"y":694},{"p":"D","k":"l","b":"G","x":1025,"y":694},{"p":"D","k":"l","b":"A","x":1180,"y":694},{"p":"D","k":"l","b":"A","x":1325,"y":694},
{"p":"D","k":"box","x":692,"x2":750,"y":719,"y2":670},
{"p":"D","k":"a","t":"W","x":721,"y":694},
{"p":"D","k":"n","t":"50","x":412,"y":654},
{"p":"D","k":"pl","t":"D","x":143,"y":502},
{"p":"D","k":"t","b":"A","x":9,"y":172},{"p":"D","k":"t","b":"A","x":30,"y":262},{"p":"D","k":"t","b":"A","x":70,"y":330},{"p":"D","k":"t","b":"A","x":100,"y":282},{"p":"D","k":"t","b":"A","x":125,"y":162},{"p":"D","k":"t","b":"A","x":150,"y":52},{"p":"D","k":"t","b":"A","x":175,"y":7},{"p":"D","k":"t","b":"A","x":200,"y":2},{"p":"D","k":"t","b":"A","x":290,"y":2},{"p":"D","k":"t","b":"A","x":310,"y":62},{"p":"D","k":"t","b":"A","x":340,"y":222},{"p":"D","k":"t","b":"A","x":370,"y":422},{"p":"D","k":"t","b":"A","x":395,"y":562},{"p":"D","k":"t","b":"A","x":415,"y":617},{"p":"D","k":"t","b":"A","x":440,"y":562},{"p":"D","k":"t","b":"A","x":465,"y":402},{"p":"D","k":"t","b":"A","x":490,"y":222},{"p":"D","k":"t","b":"A","x":515,"y":82},{"p":"D","k":"t","b":"A","x":540,"y":12},{"p":"D","k":"t","b":"A","x":560,"y":2},{"p":"D","k":"t","b":"A","x":620,"y":2},{"p":"D","k":"t","b":"A","x":660,"y":62},{"p":"D","k":"t","b":"A","x":690,"y":142},{"p":"D","k":"t","b":"A","x":710,"y":192},{"p":"D","k":"t","b":"A","x":735,"y":210},{"p":"D","k":"t","b":"A","x":770,"y":202},{"p":"D","k":"t","b":"A","x":790,"y":192},{"p":"D","k":"t","b":"A","x":810,"y":242},{"p":"D","k":"t","b":"A","x":835,"y":372},{"p":"D","k":"t","b":"A","x":870,"y":437},{"p":"D","k":"t","b":"A","x":900,"y":392},{"p":"D","k":"t","b":"A","x":925,"y":272},{"p":"D","k":"t","b":"A","x":950,"y":122},{"p":"D","k":"t","b":"A","x":975,"y":22},{"p":"D","k":"t","b":"A","x":990,"y":2},{"p":"D","k":"t","b":"A","x":1070,"y":2},{"p":"D","k":"t","b":"A","x":1095,"y":82},{"p":"D","k":"t","b":"A","x":1120,"y":252},{"p":"D","k":"t","b":"A","x":1140,"y":452},{"p":"D","k":"t","b":"A","x":1160,"y":592},{"p":"D","k":"t","b":"A","x":1185,"y":632},{"p":"D","k":"t","b":"A","x":1210,"y":582},{"p":"D","k":"t","b":"A","x":1235,"y":422},{"p":"D","k":"t","b":"A","x":1255,"y":332},{"p":"D","k":"t","b":"A","x":1270,"y":292},{"p":"D","k":"t","b":"A","x":1300,"y":352},{"p":"D","k":"t","b":"A","x":1325,"y":374},{"p":"D","k":"t","b":"A","x":1350,"y":332},{"p":"D","k":"t","b":"A","x":1375,"y":222},{"p":"D","k":"t","b":"A","x":1398,"y":112},
{"p":"D","k":"t","b":"G","x":9,"y":2},{"p":"D","k":"t","b":"G","x":100,"y":4},{"p":"D","k":"t","b":"G","x":130,"y":52},{"p":"D","k":"t","b":"G","x":160,"y":112},{"p":"D","k":"t","b":"G","x":200,"y":182},{"p":"D","k":"t","b":"G","x":235,"y":205},{"p":"D","k":"t","b":"G","x":265,"y":172},{"p":"D","k":"t","b":"G","x":290,"y":92},{"p":"D","k":"t","b":"G","x":320,"y":22},{"p":"D","k":"t","b":"G","x":340,"y":2},{"p":"D","k":"t","b":"G","x":450,"y":2},{"p":"D","k":"t","b":"G","x":480,"y":62},{"p":"D","k":"t","b":"G","x":510,"y":182},{"p":"D","k":"t","b":"G","x":535,"y":252},{"p":"D","k":"t","b":"G","x":558,"y":279},{"p":"D","k":"t","b":"G","x":585,"y":242},{"p":"D","k":"t","b":"G","x":610,"y":152},{"p":"D","k":"t","b":"G","x":640,"y":62},{"p":"D","k":"t","b":"G","x":660,"y":2},{"p":"D","k":"t","b":"G","x":920,"y":2},{"p":"D","k":"t","b":"G","x":950,"y":72},{"p":"D","k":"t","b":"G","x":980,"y":152},{"p":"D","k":"t","b":"G","x":1005,"y":202},{"p":"D","k":"t","b":"G","x":1030,"y":224},{"p":"D","k":"t","b":"G","x":1060,"y":192},{"p":"D","k":"t","b":"G","x":1085,"y":112},{"p":"D","k":"t","b":"G","x":1110,"y":42},{"p":"D","k":"t","b":"G","x":1130,"y":2},{"p":"D","k":"t","b":"G","x":1385,"y":2},{"p":"D","k":"t","b":"G","x":1398,"y":30},
{"p":"D","k":"t","b":"T","x":9,"y":12},{"p":"D","k":"t","b":"T","x":60,"y":7},{"p":"D","k":"t","b":"T","x":100,"y":2},{"p":"D","k":"t","b":"T","x":600,"y":2},{"p":"D","k":"t","b":"T","x":640,"y":32},{"p":"D","k":"t","b":"T","x":670,"y":82},{"p":"D","k":"t","b":"T","x":700,"y":152},{"p":"D","k":"t","b":"T","x":722,"y":174},{"p":"D","k":"t","b":"T","x":745,"y":152},{"p":"D","k":"t","b":"T","x":770,"y":92},{"p":"D","k":"t","b":"T","x":795,"y":32},{"p":"D","k":"t","b":"T","x":820,"y":2},{"p":"D","k":"t","b":"T","x":1398,"y":2},
{"p":"D","k":"t","b":"C","x":9,"y":172},{"p":"D","k":"t","b":"C","x":20,"y":102},{"p":"D","k":"t","b":"C","x":40,"y":42},{"p":"D","k":"t","b":"C","x":65,"y":22},{"p":"D","k":"t","b":"C","x":100,"y":20},{"p":"D","k":"t","b":"C","x":150,"y":22},{"p":"D","k":"t","b":"C","x":200,"y":17},{"p":"D","k":"t","b":"C","x":250,"y":7},{"p":"D","k":"t","b":"C","x":300,"y":4},{"p":"D","k":"t","b":"C","x":1398,"y":4},

{"p":"F","k":"hl","x":625,"x2":757,"y":0,"y2":795},
{"p":"F","k":"band","x":625,"x2":757,"y":710,"y2":640},
{"p":"F","k":"dash","x":9,"x2":1398,"y":735},
{"p":"F","k":"tick","x":65,"y":790,"y2":713},{"p":"F","k":"tick","x":180,"y":785,"y2":713},{"p":"F","k":"tick","x":308,"y":785,"y2":713},{"p":"F","k":"tick","x":448,"y":780,"y2":713},{"p":"F","k":"tick","x":575,"y":785,"y2":713},{"p":"F","k":"tick","x":812,"y":780,"y2":713},{"p":"F","k":"tick","x":933,"y":780,"y2":713},{"p":"F","k":"tick","x":1068,"y":785,"y2":713},{"p":"F","k":"tick","x":1193,"y":785,"y2":713},{"p":"F","k":"tick","x":1320,"y":785,"y2":713},
{"p":"F","k":"l","b":"A","x":68,"y":665},{"p":"F","k":"l","b":"A","x":185,"y":665},{"p":"F","k":"l","b":"G","x":315,"y":665},{"p":"F","k":"l","b":"A","x":450,"y":665},{"p":"F","k":"l","b":"A","x":578,"y":665},{"p":"F","k":"l","b":"G","x":818,"y":665},{"p":"F","k":"l","b":"T","x":937,"y":665},{"p":"F","k":"l","b":"G","x":1073,"y":665},{"p":"F","k":"l","b":"T","x":1197,"y":665},{"p":"F","k":"l","b":"G","x":1328,"y":665},
{"p":"F","k":"box","x":645,"x2":725,"y":702,"y2":638},
{"p":"F","k":"a","t":"Y","x":685,"y":670},
{"p":"F","k":"n","t":"240","x":305,"y":618},
{"p":"F","k":"pl","t":"F","x":135,"y":488},
{"p":"F","k":"t","b":"A","x":9,"y":20},{"p":"F","k":"t","b":"A","x":30,"y":110},{"p":"F","k":"t","b":"A","x":50,"y":180},{"p":"F","k":"t","b":"A","x":70,"y":207},{"p":"F","k":"t","b":"A","x":95,"y":170},{"p":"F","k":"t","b":"A","x":115,"y":90},{"p":"F","k":"t","b":"A","x":133,"y":42},{"p":"F","k":"t","b":"A","x":155,"y":110},{"p":"F","k":"t","b":"A","x":175,"y":210},{"p":"F","k":"t","b":"A","x":192,"y":243},{"p":"F","k":"t","b":"A","x":215,"y":200},{"p":"F","k":"t","b":"A","x":235,"y":90},{"p":"F","k":"t","b":"A","x":255,"y":10},{"p":"F","k":"t","b":"A","x":290,"y":5},{"p":"F","k":"t","b":"A","x":330,"y":10},{"p":"F","k":"t","b":"A","x":380,"y":10},{"p":"F","k":"t","b":"A","x":400,"y":170},{"p":"F","k":"t","b":"A","x":420,"y":360},{"p":"F","k":"t","b":"A","x":440,"y":510},{"p":"F","k":"t","b":"A","x":453,"y":550},{"p":"F","k":"t","b":"A","x":470,"y":490},{"p":"F","k":"t","b":"A","x":490,"y":260},{"p":"F","k":"t","b":"A","x":513,"y":44},{"p":"F","k":"t","b":"A","x":535,"y":150},{"p":"F","k":"t","b":"A","x":555,"y":290},{"p":"F","k":"t","b":"A","x":575,"y":332},{"p":"F","k":"t","b":"A","x":595,"y":270},{"p":"F","k":"t","b":"A","x":615,"y":110},{"p":"F","k":"t","b":"A","x":635,"y":10},{"p":"F","k":"t","b":"A","x":680,"y":15},{"p":"F","k":"t","b":"A","x":720,"y":10},{"p":"F","k":"t","b":"A","x":780,"y":12},{"p":"F","k":"t","b":"A","x":820,"y":5},{"p":"F","k":"t","b":"A","x":1030,"y":10},{"p":"F","k":"t","b":"A","x":1060,"y":5},{"p":"F","k":"t","b":"A","x":1398,"y":5},
{"p":"F","k":"t","b":"G","x":9,"y":5},{"p":"F","k":"t","b":"G","x":250,"y":5},{"p":"F","k":"t","b":"G","x":265,"y":90},{"p":"F","k":"t","b":"G","x":285,"y":180},{"p":"F","k":"t","b":"G","x":312,"y":257},{"p":"F","k":"t","b":"G","x":340,"y":210},{"p":"F","k":"t","b":"G","x":360,"y":100},{"p":"F","k":"t","b":"G","x":380,"y":5},{"p":"F","k":"t","b":"G","x":745,"y":5},{"p":"F","k":"t","b":"G","x":765,"y":90},{"p":"F","k":"t","b":"G","x":790,"y":270},{"p":"F","k":"t","b":"G","x":818,"y":420},{"p":"F","k":"t","b":"G","x":840,"y":360},{"p":"F","k":"t","b":"G","x":860,"y":190},{"p":"F","k":"t","b":"G","x":880,"y":20},{"p":"F","k":"t","b":"G","x":890,"y":5},{"p":"F","k":"t","b":"G","x":1000,"y":5},{"p":"F","k":"t","b":"G","x":1020,"y":90},{"p":"F","k":"t","b":"G","x":1045,"y":310},{"p":"F","k":"t","b":"G","x":1070,"y":425},{"p":"F","k":"t","b":"G","x":1095,"y":360},{"p":"F","k":"t","b":"G","x":1115,"y":190},{"p":"F","k":"t","b":"G","x":1135,"y":30},{"p":"F","k":"t","b":"G","x":1145,"y":5},{"p":"F","k":"t","b":"G","x":1255,"y":5},{"p":"F","k":"t","b":"G","x":1275,"y":110},{"p":"F","k":"t","b":"G","x":1300,"y":310},{"p":"F","k":"t","b":"G","x":1330,"y":480},{"p":"F","k":"t","b":"G","x":1355,"y":420},{"p":"F","k":"t","b":"G","x":1375,"y":250},{"p":"F","k":"t","b":"G","x":1398,"y":50},
{"p":"F","k":"t","b":"T","x":9,"y":5},{"p":"F","k":"t","b":"T","x":620,"y":5},{"p":"F","k":"t","b":"T","x":640,"y":50},{"p":"F","k":"t","b":"T","x":665,"y":140},{"p":"F","k":"t","b":"T","x":688,"y":177},{"p":"F","k":"t","b":"T","x":710,"y":130},{"p":"F","k":"t","b":"T","x":730,"y":70},{"p":"F","k":"t","b":"T","x":748,"y":10},{"p":"F","k":"t","b":"T","x":870,"y":5},{"p":"F","k":"t","b":"T","x":890,"y":60},{"p":"F","k":"t","b":"T","x":910,"y":170},{"p":"F","k":"t","b":"T","x":937,"y":270},{"p":"F","k":"t","b":"T","x":960,"y":210},{"p":"F","k":"t","b":"T","x":980,"y":110},{"p":"F","k":"t","b":"T","x":1000,"y":10},{"p":"F","k":"t","b":"T","x":1130,"y":5},{"p":"F","k":"t","b":"T","x":1150,"y":70},{"p":"F","k":"t","b":"T","x":1170,"y":190},{"p":"F","k":"t","b":"T","x":1197,"y":267},{"p":"F","k":"t","b":"T","x":1220,"y":210},{"p":"F","k":"t","b":"T","x":1240,"y":90},{"p":"F","k":"t","b":"T","x":1258,"y":5},{"p":"F","k":"t","b":"T","x":1398,"y":5},
{"p":"F","k":"t","b":"C","x":9,"y":40},{"p":"F","k":"t","b":"C","x":20,"y":5},{"p":"F","k":"t","b":"C","x":620,"y":5},{"p":"F","k":"t","b":"C","x":640,"y":50},{"p":"F","k":"t","b":"C","x":665,"y":130},{"p":"F","k":"t","b":"C","x":688,"y":170},{"p":"F","k":"t","b":"C","x":710,"y":120},{"p":"F","k":"t","b":"C","x":730,"y":60},{"p":"F","k":"t","b":"C","x":748,"y":5},{"p":"F","k":"t","b":"C","x":1398,"y":5},

{"p":"H","k":"hl","x":553,"x2":885,"y":0,"y2":795},
{"p":"H","k":"band","x":553,"x2":885,"y":701,"y2":639},
{"p":"H","k":"dash","x":9,"x2":1398,"y":734},
{"p":"H","k":"tick","x":52,"y":771,"y2":714},{"p":"H","k":"tick","x":160,"y":776,"y2":714},{"p":"H","k":"tick","x":265,"y":766,"y2":714},{"p":"H","k":"tick","x":383,"y":783,"y2":714},{"p":"H","k":"tick","x":500,"y":783,"y2":714},{"p":"H","k":"tick","x":1348,"y":731,"y2":714},
{"p":"H","k":"l","b":"T","x":55,"y":666},{"p":"H","k":"l","b":"C","x":168,"y":666},{"p":"H","k":"l","b":"T","x":268,"y":666},{"p":"H","k":"l","b":"T","x":388,"y":666},{"p":"H","k":"l","b":"C","x":505,"y":666},{"p":"H","k":"l","b":"T","x":1350,"y":666},
{"p":"H","k":"h","t":"Y","x":612,"y":666},{"p":"H","k":"h","t":"K","x":718,"y":666},{"p":"H","k":"h","t":"s","x":820,"y":666},{"p":"H","k":"h","t":"S","x":928,"y":666},{"p":"H","k":"h","t":"k","x":1035,"y":666},{"p":"H","k":"h","t":"s","x":1138,"y":666},{"p":"H","k":"h","t":"R","x":1245,"y":666},
{"p":"H","k":"n","t":"480","x":497,"y":616},
{"p":"H","k":"pl","t":"H","x":120,"y":471},
{"p":"H","k":"mask","x":15,"x2":187,"y":386,"y2":640},
{"p":"H","k":"t","b":"T","x":9,"y":171},{"p":"H","k":"t","b":"T","x":25,"y":311},{"p":"H","k":"t","b":"T","x":38,"y":386},{"p":"H","k":"t","b":"T","x":60,"y":511},{"p":"H","k":"t","b":"T","x":85,"y":386},{"p":"H","k":"t","b":"T","x":100,"y":251},{"p":"H","k":"t","b":"T","x":115,"y":91},{"p":"H","k":"t","b":"T","x":130,"y":11},{"p":"H","k":"t","b":"T","x":200,"y":11},{"p":"H","k":"t","b":"T","x":215,"y":71},{"p":"H","k":"t","b":"T","x":235,"y":211},{"p":"H","k":"t","b":"T","x":255,"y":381},{"p":"H","k":"t","b":"T","x":280,"y":473},{"p":"H","k":"t","b":"T","x":300,"y":411},{"p":"H","k":"t","b":"T","x":315,"y":261},{"p":"H","k":"t","b":"T","x":332,"y":171},{"p":"H","k":"t","b":"T","x":350,"y":261},{"p":"H","k":"t","b":"T","x":365,"y":411},{"p":"H","k":"t","b":"T","x":390,"y":581},{"p":"H","k":"t","b":"T","x":405,"y":551},{"p":"H","k":"t","b":"T","x":425,"y":411},{"p":"H","k":"t","b":"T","x":440,"y":211},{"p":"H","k":"t","b":"T","x":455,"y":51},{"p":"H","k":"t","b":"T","x":470,"y":6},{"p":"H","k":"t","b":"T","x":540,"y":6},{"p":"H","k":"t","b":"T","x":560,"y":71},{"p":"H","k":"t","b":"T","x":580,"y":191},{"p":"H","k":"t","b":"T","x":600,"y":239},{"p":"H","k":"t","b":"T","x":620,"y":211},{"p":"H","k":"t","b":"T","x":640,"y":131},{"p":"H","k":"t","b":"T","x":660,"y":96},{"p":"H","k":"t","b":"T","x":680,"y":171},{"p":"H","k":"t","b":"T","x":700,"y":251},{"p":"H","k":"t","b":"T","x":718,"y":289},{"p":"H","k":"t","b":"T","x":740,"y":241},{"p":"H","k":"t","b":"T","x":760,"y":131},{"p":"H","k":"t","b":"T","x":780,"y":31},{"p":"H","k":"t","b":"T","x":800,"y":6},{"p":"H","k":"t","b":"T","x":960,"y":6},{"p":"H","k":"t","b":"T","x":980,"y":51},{"p":"H","k":"t","b":"T","x":1000,"y":111},{"p":"H","k":"t","b":"T","x":1020,"y":151},{"p":"H","k":"t","b":"T","x":1040,"y":161},{"p":"H","k":"t","b":"T","x":1060,"y":141},{"p":"H","k":"t","b":"T","x":1080,"y":91},{"p":"H","k":"t","b":"T","x":1100,"y":31},{"p":"H","k":"t","b":"T","x":1120,"y":6},{"p":"H","k":"t","b":"T","x":1290,"y":6},{"p":"H","k":"t","b":"T","x":1310,"y":131},{"p":"H","k":"t","b":"T","x":1330,"y":311},{"p":"H","k":"t","b":"T","x":1350,"y":426},{"p":"H","k":"t","b":"T","x":1370,"y":381},{"p":"H","k":"t","b":"T","x":1390,"y":211},{"p":"H","k":"t","b":"T","x":1398,"y":180},
{"p":"H","k":"t","b":"C","x":9,"y":6},{"p":"H","k":"t","b":"C","x":95,"y":6},{"p":"H","k":"t","b":"C","x":110,"y":71},{"p":"H","k":"t","b":"C","x":125,"y":211},{"p":"H","k":"t","b":"C","x":138,"y":386},{"p":"H","k":"t","b":"C","x":165,"y":561},{"p":"H","k":"t","b":"C","x":190,"y":551},{"p":"H","k":"t","b":"C","x":205,"y":291},{"p":"H","k":"t","b":"C","x":220,"y":91},{"p":"H","k":"t","b":"C","x":235,"y":21},{"p":"H","k":"t","b":"C","x":245,"y":6},{"p":"H","k":"t","b":"C","x":420,"y":6},{"p":"H","k":"t","b":"C","x":440,"y":71},{"p":"H","k":"t","b":"C","x":460,"y":251},{"p":"H","k":"t","b":"C","x":480,"y":461},{"p":"H","k":"t","b":"C","x":500,"y":566},{"p":"H","k":"t","b":"C","x":520,"y":511},{"p":"H","k":"t","b":"C","x":540,"y":331},{"p":"H","k":"t","b":"C","x":560,"y":171},{"p":"H","k":"t","b":"C","x":575,"y":146},{"p":"H","k":"t","b":"C","x":595,"y":221},{"p":"H","k":"t","b":"C","x":620,"y":211},{"p":"H","k":"t","b":"C","x":640,"y":131},{"p":"H","k":"t","b":"C","x":660,"y":41},{"p":"H","k":"t","b":"C","x":680,"y":6},{"p":"H","k":"t","b":"C","x":750,"y":6},{"p":"H","k":"t","b":"C","x":770,"y":51},{"p":"H","k":"t","b":"C","x":790,"y":161},{"p":"H","k":"t","b":"C","x":805,"y":211},{"p":"H","k":"t","b":"C","x":822,"y":256},{"p":"H","k":"t","b":"C","x":845,"y":201},{"p":"H","k":"t","b":"C","x":860,"y":131},{"p":"H","k":"t","b":"C","x":875,"y":111},{"p":"H","k":"t","b":"C","x":895,"y":171},{"p":"H","k":"t","b":"C","x":915,"y":221},{"p":"H","k":"t","b":"C","x":930,"y":231},{"p":"H","k":"t","b":"C","x":950,"y":171},{"p":"H","k":"t","b":"C","x":970,"y":71},{"p":"H","k":"t","b":"C","x":990,"y":11},{"p":"H","k":"t","b":"C","x":1080,"y":11},{"p":"H","k":"t","b":"C","x":1100,"y":91},{"p":"H","k":"t","b":"C","x":1120,"y":191},{"p":"H","k":"t","b":"C","x":1150,"y":256},{"p":"H","k":"t","b":"C","x":1175,"y":191},{"p":"H","k":"t","b":"C","x":1195,"y":81},{"p":"H","k":"t","b":"C","x":1215,"y":11},{"p":"H","k":"t","b":"C","x":1385,"y":6},{"p":"H","k":"t","b":"C","x":1398,"y":60},
{"p":"H","k":"t","b":"G","x":9,"y":6},{"p":"H","k":"t","b":"G","x":630,"y":6},{"p":"H","k":"t","b":"G","x":650,"y":51},{"p":"H","k":"t","b":"G","x":670,"y":111},{"p":"H","k":"t","b":"G","x":695,"y":171},{"p":"H","k":"t","b":"G","x":718,"y":203},{"p":"H","k":"t","b":"G","x":740,"y":161},{"p":"H","k":"t","b":"G","x":760,"y":101},{"p":"H","k":"t","b":"G","x":775,"y":111},{"p":"H","k":"t","b":"G","x":795,"y":231},{"p":"H","k":"t","b":"G","x":812,"y":311},{"p":"H","k":"t","b":"G","x":828,"y":343},{"p":"H","k":"t","b":"G","x":850,"y":291},{"p":"H","k":"t","b":"G","x":870,"y":171},{"p":"H","k":"t","b":"G","x":885,"y":131},{"p":"H","k":"t","b":"G","x":910,"y":211},{"p":"H","k":"t","b":"G","x":935,"y":256},{"p":"H","k":"t","b":"G","x":955,"y":211},{"p":"H","k":"t","b":"G","x":975,"y":131},{"p":"H","k":"t","b":"G","x":990,"y":101},{"p":"H","k":"t","b":"G","x":1015,"y":161},{"p":"H","k":"t","b":"G","x":1040,"y":198},{"p":"H","k":"t","b":"G","x":1060,"y":161},{"p":"H","k":"t","b":"G","x":1080,"y":111},{"p":"H","k":"t","b":"G","x":1095,"y":106},{"p":"H","k":"t","b":"G","x":1115,"y":191},{"p":"H","k":"t","b":"G","x":1135,"y":291},{"p":"H","k":"t","b":"G","x":1148,"y":333},{"p":"H","k":"t","b":"G","x":1170,"y":271},{"p":"H","k":"t","b":"G","x":1190,"y":161},{"p":"H","k":"t","b":"G","x":1210,"y":121},{"p":"H","k":"t","b":"G","x":1230,"y":191},{"p":"H","k":"t","b":"G","x":1250,"y":233},{"p":"H","k":"t","b":"G","x":1270,"y":201},{"p":"H","k":"t","b":"G","x":1290,"y":111},{"p":"H","k":"t","b":"G","x":1310,"y":31},{"p":"H","k":"t","b":"G","x":1325,"y":6},{"p":"H","k":"t","b":"G","x":1398,"y":6},
{"p":"H","k":"t","b":"A","x":9,"y":111},{"p":"H","k":"t","b":"A","x":20,"y":21},{"p":"H","k":"t","b":"A","x":40,"y":11},{"p":"H","k":"t","b":"A","x":60,"y":13},{"p":"H","k":"t","b":"A","x":100,"y":11},{"p":"H","k":"t","b":"A","x":170,"y":13},{"p":"H","k":"t","b":"A","x":240,"y":11},{"p":"H","k":"t","b":"A","x":270,"y":6},{"p":"H","k":"t","b":"A","x":1150,"y":6},{"p":"H","k":"t","b":"A","x":1180,"y":31},{"p":"H","k":"t","b":"A","x":1200,"y":111},{"p":"H","k":"t","b":"A","x":1220,"y":191},{"p":"H","k":"t","b":"A","x":1245,"y":236},{"p":"H","k":"t","b":"A","x":1270,"y":201},{"p":"H","k":"t","b":"A","x":1290,"y":111},{"p":"H","k":"t","b":"A","x":1310,"y":31},{"p":"H","k":"t","b":"A","x":1330,"y":6},{"p":"H","k":"t","b":"A","x":1398,"y":6},

{"p":"J","k":"hl","x":625,"x2":780,"y":0,"y2":795},
{"p":"J","k":"band","x":625,"x2":780,"y":719,"y2":669},
{"p":"J","k":"dash","x":9,"x2":1398,"y":742},
{"p":"J","k":"tick","x":80,"y":742,"y2":727},{"p":"J","k":"tick","x":232,"y":745,"y2":727},{"p":"J","k":"tick","x":413,"y":742,"y2":727},{"p":"J","k":"tick","x":545,"y":762,"y2":727},{"p":"J","k":"tick","x":845,"y":755,"y2":727},{"p":"J","k":"tick","x":987,"y":764,"y2":727},{"p":"J","k":"tick","x":1152,"y":769,"y2":727},{"p":"J","k":"tick","x":1310,"y":769,"y2":727},
{"p":"J","k":"l","b":"G","x":85,"y":689},{"p":"J","k":"l","b":"C","x":237,"y":689},{"p":"J","k":"l","b":"T","x":415,"y":689},{"p":"J","k":"l","b":"G","x":550,"y":689},{"p":"J","k":"l","b":"T","x":847,"y":689},{"p":"J","k":"l","b":"G","x":992,"y":689},{"p":"J","k":"l","b":"A","x":1155,"y":689},{"p":"J","k":"l","b":"A","x":1313,"y":689},
{"p":"J","k":"box","x":660,"x2":725,"y":715,"y2":669},
{"p":"J","k":"a","t":"R","x":693,"y":692},
{"p":"J","k":"n","t":"210","x":230,"y":652},
{"p":"J","k":"pl","t":"J","x":105,"y":482},
{"p":"J","k":"mask","x":15,"x2":150,"y":397,"y2":640},
{"p":"J","k":"t","b":"G","x":9,"y":167},{"p":"J","k":"t","b":"G","x":25,"y":177},{"p":"J","k":"t","b":"G","x":45,"y":267},{"p":"J","k":"t","b":"G","x":68,"y":397},{"p":"J","k":"t","b":"G","x":90,"y":507},{"p":"J","k":"t","b":"G","x":110,"y":397},{"p":"J","k":"t","b":"G","x":130,"y":257},{"p":"J","k":"t","b":"G","x":150,"y":117},{"p":"J","k":"t","b":"G","x":170,"y":17},{"p":"J","k":"t","b":"G","x":200,"y":12},{"p":"J","k":"t","b":"G","x":255,"y":34},{"p":"J","k":"t","b":"G","x":290,"y":12},{"p":"J","k":"t","b":"G","x":330,"y":12},{"p":"J","k":"t","b":"G","x":378,"y":55},{"p":"J","k":"t","b":"G","x":410,"y":12},{"p":"J","k":"t","b":"G","x":440,"y":12},{"p":"J","k":"t","b":"G","x":470,"y":107},{"p":"J","k":"t","b":"G","x":490,"y":247},{"p":"J","k":"t","b":"G","x":510,"y":427},{"p":"J","k":"t","b":"G","x":535,"y":577},{"p":"J","k":"t","b":"G","x":557,"y":629},{"p":"J","k":"t","b":"G","x":580,"y":567},{"p":"J","k":"t","b":"G","x":600,"y":357},{"p":"J","k":"t","b":"G","x":625,"y":157},{"p":"J","k":"t","b":"G","x":645,"y":62},{"p":"J","k":"t","b":"G","x":670,"y":127},{"p":"J","k":"t","b":"G","x":690,"y":217},{"p":"J","k":"t","b":"G","x":710,"y":267},{"p":"J","k":"t","b":"G","x":730,"y":217},{"p":"J","k":"t","b":"G","x":750,"y":127},{"p":"J","k":"t","b":"G","x":770,"y":87},{"p":"J","k":"t","b":"G","x":800,"y":74},{"p":"J","k":"t","b":"G","x":820,"y":57},{"p":"J","k":"t","b":"G","x":850,"y":17},{"p":"J","k":"t","b":"G","x":880,"y":2},{"p":"J","k":"t","b":"G","x":900,"y":57},{"p":"J","k":"t","b":"G","x":920,"y":157},{"p":"J","k":"t","b":"G","x":940,"y":307},{"p":"J","k":"t","b":"G","x":965,"y":477},{"p":"J","k":"t","b":"G","x":998,"y":594},{"p":"J","k":"t","b":"G","x":1020,"y":547},{"p":"J","k":"t","b":"G","x":1040,"y":427},{"p":"J","k":"t","b":"G","x":1060,"y":267},{"p":"J","k":"t","b":"G","x":1080,"y":107},{"p":"J","k":"t","b":"G","x":1100,"y":7},{"p":"J","k":"t","b":"G","x":1180,"y":12},{"p":"J","k":"t","b":"G","x":1250,"y":2},{"p":"J","k":"t","b":"G","x":1290,"y":12},{"p":"J","k":"t","b":"G","x":1330,"y":37},{"p":"J","k":"t","b":"G","x":1370,"y":67},{"p":"J","k":"t","b":"G","x":1398,"y":97},
{"p":"J","k":"t","b":"T","x":9,"y":7},{"p":"J","k":"t","b":"T","x":50,"y":17},{"p":"J","k":"t","b":"T","x":80,"y":32},{"p":"J","k":"t","b":"T","x":120,"y":17},{"p":"J","k":"t","b":"T","x":160,"y":7},{"p":"J","k":"t","b":"T","x":200,"y":17},{"p":"J","k":"t","b":"T","x":235,"y":35},{"p":"J","k":"t","b":"T","x":270,"y":17},{"p":"J","k":"t","b":"T","x":300,"y":2},{"p":"J","k":"t","b":"T","x":320,"y":27},{"p":"J","k":"t","b":"T","x":345,"y":107},{"p":"J","k":"t","b":"T","x":370,"y":207},{"p":"J","k":"t","b":"T","x":400,"y":337},{"p":"J","k":"t","b":"T","x":430,"y":389},{"p":"J","k":"t","b":"T","x":455,"y":337},{"p":"J","k":"t","b":"T","x":475,"y":227},{"p":"J","k":"t","b":"T","x":490,"y":117},{"p":"J","k":"t","b":"T","x":510,"y":37},{"p":"J","k":"t","b":"T","x":550,"y":7},{"p":"J","k":"t","b":"T","x":620,"y":2},{"p":"J","k":"t","b":"T","x":660,"y":17},{"p":"J","k":"t","b":"T","x":690,"y":29},{"p":"J","k":"t","b":"T","x":720,"y":17},{"p":"J","k":"t","b":"T","x":760,"y":7},{"p":"J","k":"t","b":"T","x":780,"y":47},{"p":"J","k":"t","b":"T","x":800,"y":167},{"p":"J","k":"t","b":"T","x":825,"y":327},{"p":"J","k":"t","b":"T","x":858,"y":397},{"p":"J","k":"t","b":"T","x":880,"y":357},{"p":"J","k":"t","b":"T","x":900,"y":247},{"p":"J","k":"t","b":"T","x":925,"y":127},{"p":"J","k":"t","b":"T","x":945,"y":47},{"p":"J","k":"t","b":"T","x":970,"y":7},{"p":"J","k":"t","b":"T","x":1100,"y":7},{"p":"J","k":"t","b":"T","x":1150,"y":22},{"p":"J","k":"t","b":"T","x":1210,"y":35},{"p":"J","k":"t","b":"T","x":1260,"y":17},{"p":"J","k":"t","b":"T","x":1300,"y":7},{"p":"J","k":"t","b":"T","x":1398,"y":7},
{"p":"J","k":"t","b":"A","x":9,"y":7},{"p":"J","k":"t","b":"A","x":50,"y":32},{"p":"J","k":"t","b":"A","x":110,"y":55},{"p":"J","k":"t","b":"A","x":140,"y":37},{"p":"J","k":"t","b":"A","x":170,"y":7},{"p":"J","k":"t","b":"A","x":200,"y":12},{"p":"J","k":"t","b":"A","x":250,"y":7},{"p":"J","k":"t","b":"A","x":300,"y":12},{"p":"J","k":"t","b":"A","x":350,"y":17},{"p":"J","k":"t","b":"A","x":400,"y":2},{"p":"J","k":"t","b":"A","x":440,"y":17},{"p":"J","k":"t","b":"A","x":465,"y":67},{"p":"J","k":"t","b":"A","x":490,"y":87},{"p":"J","k":"t","b":"A","x":515,"y":62},{"p":"J","k":"t","b":"A","x":540,"y":12},{"p":"J","k":"t","b":"A","x":620,"y":2},{"p":"J","k":"t","b":"A","x":645,"y":87},{"p":"J","k":"t","b":"A","x":665,"y":227},{"p":"J","k":"t","b":"A","x":685,"y":347},{"p":"J","k":"t","b":"A","x":700,"y":392},{"p":"J","k":"t","b":"A","x":720,"y":337},{"p":"J","k":"t","b":"A","x":740,"y":227},{"p":"J","k":"t","b":"A","x":760,"y":107},{"p":"J","k":"t","b":"A","x":780,"y":37},{"p":"J","k":"t","b":"A","x":800,"y":27},{"p":"J","k":"t","b":"A","x":830,"y":17},{"p":"J","k":"t","b":"A","x":870,"y":7},{"p":"J","k":"t","b":"A","x":900,"y":27},{"p":"J","k":"t","b":"A","x":925,"y":57},{"p":"J","k":"t","b":"A","x":950,"y":67},{"p":"J","k":"t","b":"A","x":980,"y":57},{"p":"J","k":"t","b":"A","x":1010,"y":7},{"p":"J","k":"t","b":"A","x":1060,"y":2},{"p":"J","k":"t","b":"A","x":1075,"y":47},{"p":"J","k":"t","b":"A","x":1095,"y":207},{"p":"J","k":"t","b":"A","x":1110,"y":357},{"p":"J","k":"t","b":"A","x":1130,"y":577},{"p":"J","k":"t","b":"A","x":1145,"y":629},{"p":"J","k":"t","b":"A","x":1180,"y":629},{"p":"J","k":"t","b":"A","x":1200,"y":507},{"p":"J","k":"t","b":"A","x":1220,"y":307},{"p":"J","k":"t","b":"A","x":1245,"y":117},{"p":"J","k":"t","b":"A","x":1265,"y":247},{"p":"J","k":"t","b":"A","x":1280,"y":427},{"p":"J","k":"t","b":"A","x":1295,"y":607},{"p":"J","k":"t","b":"A","x":1310,"y":629},{"p":"J","k":"t","b":"A","x":1350,"y":629},{"p":"J","k":"t","b":"A","x":1375,"y":457},{"p":"J","k":"t","b":"A","x":1398,"y":247},
{"p":"J","k":"t","b":"C","x":9,"y":2},{"p":"J","k":"t","b":"C","x":50,"y":7},{"p":"J","k":"t","b":"C","x":95,"y":19},{"p":"J","k":"t","b":"C","x":130,"y":7},{"p":"J","k":"t","b":"C","x":160,"y":17},{"p":"J","k":"t","b":"C","x":185,"y":127},{"p":"J","k":"t","b":"C","x":210,"y":217},{"p":"J","k":"t","b":"C","x":255,"y":274},{"p":"J","k":"t","b":"C","x":285,"y":247},{"p":"J","k":"t","b":"C","x":310,"y":157},{"p":"J","k":"t","b":"C","x":335,"y":47},{"p":"J","k":"t","b":"C","x":360,"y":7},{"p":"J","k":"t","b":"C","x":400,"y":2},{"p":"J","k":"t","b":"C","x":660,"y":2},{"p":"J","k":"t","b":"C","x":700,"y":7},{"p":"J","k":"t","b":"C","x":900,"y":7},{"p":"J","k":"t","b":"C","x":940,"y":12},{"p":"J","k":"t","b":"C","x":1000,"y":7},{"p":"J","k":"t","b":"C","x":1160,"y":12},{"p":"J","k":"t","b":"C","x":1200,"y":2},{"p":"J","k":"t","b":"C","x":1398,"y":2}
]},
"transform":[{"lookup":"p","from":{"data":{"values":[{"p":"A","r":1,"c":1},{"p":"B","r":1,"c":2},{"p":"C","r":2,"c":1},{"p":"D","r":2,"c":2},{"p":"E","r":3,"c":1},{"p":"F","r":3,"c":2},{"p":"G","r":4,"c":1},{"p":"H","r":4,"c":2},{"p":"I","r":5,"c":1},{"p":"J","r":5,"c":2}]},"key":"p","fields":["r","c"]}}],
"facet":{"row":{"field":"r","type":"ordinal","header":null},"column":{"field":"c","type":"ordinal","header":null}},
"spacing":{"row":4.5,"column":5},
"bounds":"flush",
"resolve":{"scale":{"x":"independent"}},
"spec":{"width":466,"height":265,
  "encoding":{"x":{"field":"x","type":"quantitative","scale":{"nice":false,"zero":false},"axis":null},
              "y":{"field":"y","type":"quantitative","scale":{"domain":[0,795],"nice":false,"zero":false},"axis":null}},
  "layer":[
   {"transform":[{"filter":"datum.k==='hl'"}],"mark":{"type":"rect","color":"#c4daf8"},"encoding":{"x2":{"field":"x2"},"y2":{"field":"y2"}}},
   {"transform":[{"filter":"datum.k==='band'"}],"mark":{"type":"rect","color":"#dbe8fb"},"encoding":{"x2":{"field":"x2"},"y2":{"field":"y2"}}},
   {"transform":[{"filter":"datum.k==='band'"}],"mark":{"type":"rule","color":"#a6b6cb","strokeWidth":1.5},"encoding":{"y":{"field":"y2","type":"quantitative","axis":null},"x2":{"field":"x2"}}},
   {"transform":[{"filter":"datum.k==='dash'"}],"mark":{"type":"rule","color":"#1cc6d0","strokeWidth":2,"strokeDash":[5,4]},"encoding":{"x2":{"field":"x2"}}},
   {"transform":[{"filter":"datum.k==='tick'"}],"mark":{"type":"rule","color":"#a2a2a2","strokeWidth":5},"encoding":{"y2":{"field":"y2"}}},
   {"transform":[{"filter":"datum.k==='t'"}],"mark":{"type":"line","interpolate":"monotone","strokeWidth":1.3,"clip":true},"encoding":{"color":{"field":"b","type":"nominal","scale":{"domain":["A","C","G","T"],"range":["#1f8f1f","#0000ff","#000000","#ff0000"]},"legend":null}}},
   {"transform":[{"filter":"datum.k==='mask'"}],"mark":{"type":"rect","color":"#ffffff"},"encoding":{"x2":{"field":"x2"},"y2":{"field":"y2"}}},
   {"transform":[{"filter":"datum.k==='l'"}],"mark":{"type":"text","baseline":"middle"},"encoding":{"text":{"field":"b"},"color":{"field":"b","type":"nominal","legend":null},"size":{"condition":{"test":"indexof(['D','I','J'],datum.p)>=0","value":10},"value":12.5}}},
   {"transform":[{"filter":"datum.k==='h'"}],"mark":{"type":"text","baseline":"middle","color":"#333333","fontSize":12.5},"encoding":{"text":{"field":"t"}}},
   {"transform":[{"filter":"datum.k==='n'"}],"mark":{"type":"text","baseline":"middle","color":"#222222"},"encoding":{"text":{"field":"t"},"size":{"condition":{"test":"indexof(['D','I','J'],datum.p)>=0","value":10.5},"value":12.5}}},
   {"transform":[{"filter":"datum.k==='box'"}],"mark":{"type":"rect","stroke":"#444444","strokeWidth":1.5},"encoding":{"x2":{"field":"x2"},"y2":{"field":"y2"},"fill":{"condition":{"test":"indexof(['A','D','I','J'],datum.p)>=0","value":"#d2e3f8"},"value":"#c4c4c4"}}},
   {"transform":[{"filter":"datum.k==='a'"}],"mark":{"type":"text","baseline":"middle","fontWeight":"bold","color":"#000000"},"encoding":{"text":{"field":"t"},"size":{"condition":{"test":"indexof(['D','I','J'],datum.p)>=0","value":11},"value":13}}},
   {"transform":[{"filter":"datum.k==='pl'"}],"mark":{"type":"text","baseline":"alphabetic","font":"Liberation Sans","fontWeight":"bold","fontSize":48,"color":"#000000"},"encoding":{"text":{"field":"t"}}}
  ]}
}
